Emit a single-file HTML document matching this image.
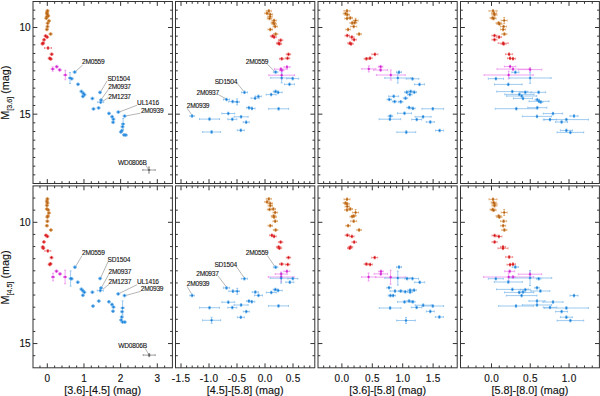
<!DOCTYPE html>
<html><head><meta charset="utf-8"><style>
html,body{margin:0;padding:0;background:#fff;width:600px;height:396px;overflow:hidden}
svg{display:block}
text{font-family:"Liberation Sans",sans-serif;fill:#111;stroke:#111;stroke-width:0.14}
.lb{stroke-width:0.1;letter-spacing:-0.22px}
.tl{letter-spacing:0.35px}
</style></head><body>
<svg width="600" height="396" viewBox="0 0 600 396">
<rect x="33" y="1.5" width="139.4" height="182" fill="none" stroke="#333333" stroke-width="1.0"/>
<path d="M39.97 183.5v-2.3M39.97 1.5v2.3M47.3 183.5v-4.4M47.3 1.5v4.4M54.63 183.5v-2.3M54.63 1.5v2.3M61.97 183.5v-2.3M61.97 1.5v2.3M69.3 183.5v-2.3M69.3 1.5v2.3M76.64 183.5v-2.3M76.64 1.5v2.3M83.97 183.5v-4.4M83.97 1.5v4.4M91.3 183.5v-2.3M91.3 1.5v2.3M98.64 183.5v-2.3M98.64 1.5v2.3M105.97 183.5v-2.3M105.97 1.5v2.3M113.31 183.5v-2.3M113.31 1.5v2.3M120.64 183.5v-4.4M120.64 1.5v4.4M127.97 183.5v-2.3M127.97 1.5v2.3M135.31 183.5v-2.3M135.31 1.5v2.3M142.64 183.5v-2.3M142.64 1.5v2.3M149.98 183.5v-2.3M149.98 1.5v2.3M157.31 183.5v-4.4M157.31 1.5v4.4M164.64 183.5v-2.3M164.64 1.5v2.3M33 10.17h2.3M172.4 10.17h-2.3M33 18.83h2.3M172.4 18.83h-2.3M33 27.5h4.4M172.4 27.5h-4.4M33 36.17h2.3M172.4 36.17h-2.3M33 44.83h2.3M172.4 44.83h-2.3M33 53.5h2.3M172.4 53.5h-2.3M33 62.17h2.3M172.4 62.17h-2.3M33 70.83h2.3M172.4 70.83h-2.3M33 79.5h2.3M172.4 79.5h-2.3M33 88.17h2.3M172.4 88.17h-2.3M33 96.83h2.3M172.4 96.83h-2.3M33 105.5h2.3M172.4 105.5h-2.3M33 114.16h4.4M172.4 114.16h-4.4M33 122.83h2.3M172.4 122.83h-2.3M33 131.5h2.3M172.4 131.5h-2.3M33 140.16h2.3M172.4 140.16h-2.3M33 148.83h2.3M172.4 148.83h-2.3M33 157.5h2.3M172.4 157.5h-2.3M33 166.16h2.3M172.4 166.16h-2.3M33 174.83h2.3M172.4 174.83h-2.3" stroke="#333333" stroke-width="1.0" fill="none"/>
<rect x="175.5" y="1.5" width="139.3" height="182" fill="none" stroke="#333333" stroke-width="1.0"/>
<path d="M181 183.5v-4.4M181 1.5v4.4M186.6 183.5v-2.3M186.6 1.5v2.3M192.2 183.5v-2.3M192.2 1.5v2.3M197.8 183.5v-2.3M197.8 1.5v2.3M203.4 183.5v-2.3M203.4 1.5v2.3M209 183.5v-4.4M209 1.5v4.4M214.6 183.5v-2.3M214.6 1.5v2.3M220.2 183.5v-2.3M220.2 1.5v2.3M225.8 183.5v-2.3M225.8 1.5v2.3M231.4 183.5v-2.3M231.4 1.5v2.3M237 183.5v-4.4M237 1.5v4.4M242.6 183.5v-2.3M242.6 1.5v2.3M248.2 183.5v-2.3M248.2 1.5v2.3M253.8 183.5v-2.3M253.8 1.5v2.3M259.4 183.5v-2.3M259.4 1.5v2.3M265 183.5v-4.4M265 1.5v4.4M270.6 183.5v-2.3M270.6 1.5v2.3M276.2 183.5v-2.3M276.2 1.5v2.3M281.8 183.5v-2.3M281.8 1.5v2.3M287.4 183.5v-2.3M287.4 1.5v2.3M293 183.5v-4.4M293 1.5v4.4M298.6 183.5v-2.3M298.6 1.5v2.3M304.2 183.5v-2.3M304.2 1.5v2.3M309.8 183.5v-2.3M309.8 1.5v2.3M175.5 10.17h2.3M314.8 10.17h-2.3M175.5 18.83h2.3M314.8 18.83h-2.3M175.5 27.5h4.4M314.8 27.5h-4.4M175.5 36.17h2.3M314.8 36.17h-2.3M175.5 44.83h2.3M314.8 44.83h-2.3M175.5 53.5h2.3M314.8 53.5h-2.3M175.5 62.17h2.3M314.8 62.17h-2.3M175.5 70.83h2.3M314.8 70.83h-2.3M175.5 79.5h2.3M314.8 79.5h-2.3M175.5 88.17h2.3M314.8 88.17h-2.3M175.5 96.83h2.3M314.8 96.83h-2.3M175.5 105.5h2.3M314.8 105.5h-2.3M175.5 114.16h4.4M314.8 114.16h-4.4M175.5 122.83h2.3M314.8 122.83h-2.3M175.5 131.5h2.3M314.8 131.5h-2.3M175.5 140.16h2.3M314.8 140.16h-2.3M175.5 148.83h2.3M314.8 148.83h-2.3M175.5 157.5h2.3M314.8 157.5h-2.3M175.5 166.16h2.3M314.8 166.16h-2.3M175.5 174.83h2.3M314.8 174.83h-2.3" stroke="#333333" stroke-width="1.0" fill="none"/>
<rect x="318" y="1.5" width="139.2" height="182" fill="none" stroke="#333333" stroke-width="1.0"/>
<path d="M323.66 183.5v-2.3M323.66 1.5v2.3M329.74 183.5v-2.3M329.74 1.5v2.3M335.82 183.5v-2.3M335.82 1.5v2.3M341.9 183.5v-4.4M341.9 1.5v4.4M347.98 183.5v-2.3M347.98 1.5v2.3M354.06 183.5v-2.3M354.06 1.5v2.3M360.14 183.5v-2.3M360.14 1.5v2.3M366.22 183.5v-2.3M366.22 1.5v2.3M372.3 183.5v-4.4M372.3 1.5v4.4M378.38 183.5v-2.3M378.38 1.5v2.3M384.46 183.5v-2.3M384.46 1.5v2.3M390.54 183.5v-2.3M390.54 1.5v2.3M396.62 183.5v-2.3M396.62 1.5v2.3M402.7 183.5v-4.4M402.7 1.5v4.4M408.78 183.5v-2.3M408.78 1.5v2.3M414.86 183.5v-2.3M414.86 1.5v2.3M420.94 183.5v-2.3M420.94 1.5v2.3M427.02 183.5v-2.3M427.02 1.5v2.3M433.1 183.5v-4.4M433.1 1.5v4.4M439.18 183.5v-2.3M439.18 1.5v2.3M445.26 183.5v-2.3M445.26 1.5v2.3M451.34 183.5v-2.3M451.34 1.5v2.3M318 10.17h2.3M457.2 10.17h-2.3M318 18.83h2.3M457.2 18.83h-2.3M318 27.5h4.4M457.2 27.5h-4.4M318 36.17h2.3M457.2 36.17h-2.3M318 44.83h2.3M457.2 44.83h-2.3M318 53.5h2.3M457.2 53.5h-2.3M318 62.17h2.3M457.2 62.17h-2.3M318 70.83h2.3M457.2 70.83h-2.3M318 79.5h2.3M457.2 79.5h-2.3M318 88.17h2.3M457.2 88.17h-2.3M318 96.83h2.3M457.2 96.83h-2.3M318 105.5h2.3M457.2 105.5h-2.3M318 114.16h4.4M457.2 114.16h-4.4M318 122.83h2.3M457.2 122.83h-2.3M318 131.5h2.3M457.2 131.5h-2.3M318 140.16h2.3M457.2 140.16h-2.3M318 148.83h2.3M457.2 148.83h-2.3M318 157.5h2.3M457.2 157.5h-2.3M318 166.16h2.3M457.2 166.16h-2.3M318 174.83h2.3M457.2 174.83h-2.3" stroke="#333333" stroke-width="1.0" fill="none"/>
<rect x="460.5" y="1.5" width="138.9" height="182" fill="none" stroke="#333333" stroke-width="1.0"/>
<path d="M468.25 183.5v-2.3M468.25 1.5v2.3M476 183.5v-2.3M476 1.5v2.3M483.75 183.5v-2.3M483.75 1.5v2.3M491.5 183.5v-4.4M491.5 1.5v4.4M499.25 183.5v-2.3M499.25 1.5v2.3M507 183.5v-2.3M507 1.5v2.3M514.75 183.5v-2.3M514.75 1.5v2.3M522.5 183.5v-2.3M522.5 1.5v2.3M530.25 183.5v-4.4M530.25 1.5v4.4M538 183.5v-2.3M538 1.5v2.3M545.75 183.5v-2.3M545.75 1.5v2.3M553.5 183.5v-2.3M553.5 1.5v2.3M561.25 183.5v-2.3M561.25 1.5v2.3M569 183.5v-4.4M569 1.5v4.4M576.75 183.5v-2.3M576.75 1.5v2.3M584.5 183.5v-2.3M584.5 1.5v2.3M592.25 183.5v-2.3M592.25 1.5v2.3M460.5 10.17h2.3M599.4 10.17h-2.3M460.5 18.83h2.3M599.4 18.83h-2.3M460.5 27.5h4.4M599.4 27.5h-4.4M460.5 36.17h2.3M599.4 36.17h-2.3M460.5 44.83h2.3M599.4 44.83h-2.3M460.5 53.5h2.3M599.4 53.5h-2.3M460.5 62.17h2.3M599.4 62.17h-2.3M460.5 70.83h2.3M599.4 70.83h-2.3M460.5 79.5h2.3M599.4 79.5h-2.3M460.5 88.17h2.3M599.4 88.17h-2.3M460.5 96.83h2.3M599.4 96.83h-2.3M460.5 105.5h2.3M599.4 105.5h-2.3M460.5 114.16h4.4M599.4 114.16h-4.4M460.5 122.83h2.3M599.4 122.83h-2.3M460.5 131.5h2.3M599.4 131.5h-2.3M460.5 140.16h2.3M599.4 140.16h-2.3M460.5 148.83h2.3M599.4 148.83h-2.3M460.5 157.5h2.3M599.4 157.5h-2.3M460.5 166.16h2.3M599.4 166.16h-2.3M460.5 174.83h2.3M599.4 174.83h-2.3" stroke="#333333" stroke-width="1.0" fill="none"/>
<rect x="33" y="185.9" width="139.4" height="181.9" fill="none" stroke="#333333" stroke-width="1.0"/>
<path d="M39.97 367.8v-2.3M39.97 185.9v2.3M47.3 367.8v-4.4M47.3 185.9v4.4M54.63 367.8v-2.3M54.63 185.9v2.3M61.97 367.8v-2.3M61.97 185.9v2.3M69.3 367.8v-2.3M69.3 185.9v2.3M76.64 367.8v-2.3M76.64 185.9v2.3M83.97 367.8v-4.4M83.97 185.9v4.4M91.3 367.8v-2.3M91.3 185.9v2.3M98.64 367.8v-2.3M98.64 185.9v2.3M105.97 367.8v-2.3M105.97 185.9v2.3M113.31 367.8v-2.3M113.31 185.9v2.3M120.64 367.8v-4.4M120.64 185.9v4.4M127.97 367.8v-2.3M127.97 185.9v2.3M135.31 367.8v-2.3M135.31 185.9v2.3M142.64 367.8v-2.3M142.64 185.9v2.3M149.98 367.8v-2.3M149.98 185.9v2.3M157.31 367.8v-4.4M157.31 185.9v4.4M164.64 367.8v-2.3M164.64 185.9v2.3M33 198.05h2.3M172.4 198.05h-2.3M33 210.17h2.3M172.4 210.17h-2.3M33 222.3h4.4M172.4 222.3h-4.4M33 234.43h2.3M172.4 234.43h-2.3M33 246.55h2.3M172.4 246.55h-2.3M33 258.68h2.3M172.4 258.68h-2.3M33 270.81h2.3M172.4 270.81h-2.3M33 282.93h2.3M172.4 282.93h-2.3M33 295.06h2.3M172.4 295.06h-2.3M33 307.19h2.3M172.4 307.19h-2.3M33 319.31h2.3M172.4 319.31h-2.3M33 331.44h2.3M172.4 331.44h-2.3M33 343.56h4.4M172.4 343.56h-4.4M33 355.69h2.3M172.4 355.69h-2.3" stroke="#333333" stroke-width="1.0" fill="none"/>
<rect x="175.5" y="185.9" width="139.3" height="181.9" fill="none" stroke="#333333" stroke-width="1.0"/>
<path d="M181 367.8v-4.4M181 185.9v4.4M186.6 367.8v-2.3M186.6 185.9v2.3M192.2 367.8v-2.3M192.2 185.9v2.3M197.8 367.8v-2.3M197.8 185.9v2.3M203.4 367.8v-2.3M203.4 185.9v2.3M209 367.8v-4.4M209 185.9v4.4M214.6 367.8v-2.3M214.6 185.9v2.3M220.2 367.8v-2.3M220.2 185.9v2.3M225.8 367.8v-2.3M225.8 185.9v2.3M231.4 367.8v-2.3M231.4 185.9v2.3M237 367.8v-4.4M237 185.9v4.4M242.6 367.8v-2.3M242.6 185.9v2.3M248.2 367.8v-2.3M248.2 185.9v2.3M253.8 367.8v-2.3M253.8 185.9v2.3M259.4 367.8v-2.3M259.4 185.9v2.3M265 367.8v-4.4M265 185.9v4.4M270.6 367.8v-2.3M270.6 185.9v2.3M276.2 367.8v-2.3M276.2 185.9v2.3M281.8 367.8v-2.3M281.8 185.9v2.3M287.4 367.8v-2.3M287.4 185.9v2.3M293 367.8v-4.4M293 185.9v4.4M298.6 367.8v-2.3M298.6 185.9v2.3M304.2 367.8v-2.3M304.2 185.9v2.3M309.8 367.8v-2.3M309.8 185.9v2.3M175.5 198.05h2.3M314.8 198.05h-2.3M175.5 210.17h2.3M314.8 210.17h-2.3M175.5 222.3h4.4M314.8 222.3h-4.4M175.5 234.43h2.3M314.8 234.43h-2.3M175.5 246.55h2.3M314.8 246.55h-2.3M175.5 258.68h2.3M314.8 258.68h-2.3M175.5 270.81h2.3M314.8 270.81h-2.3M175.5 282.93h2.3M314.8 282.93h-2.3M175.5 295.06h2.3M314.8 295.06h-2.3M175.5 307.19h2.3M314.8 307.19h-2.3M175.5 319.31h2.3M314.8 319.31h-2.3M175.5 331.44h2.3M314.8 331.44h-2.3M175.5 343.56h4.4M314.8 343.56h-4.4M175.5 355.69h2.3M314.8 355.69h-2.3" stroke="#333333" stroke-width="1.0" fill="none"/>
<rect x="318" y="185.9" width="139.2" height="181.9" fill="none" stroke="#333333" stroke-width="1.0"/>
<path d="M323.66 367.8v-2.3M323.66 185.9v2.3M329.74 367.8v-2.3M329.74 185.9v2.3M335.82 367.8v-2.3M335.82 185.9v2.3M341.9 367.8v-4.4M341.9 185.9v4.4M347.98 367.8v-2.3M347.98 185.9v2.3M354.06 367.8v-2.3M354.06 185.9v2.3M360.14 367.8v-2.3M360.14 185.9v2.3M366.22 367.8v-2.3M366.22 185.9v2.3M372.3 367.8v-4.4M372.3 185.9v4.4M378.38 367.8v-2.3M378.38 185.9v2.3M384.46 367.8v-2.3M384.46 185.9v2.3M390.54 367.8v-2.3M390.54 185.9v2.3M396.62 367.8v-2.3M396.62 185.9v2.3M402.7 367.8v-4.4M402.7 185.9v4.4M408.78 367.8v-2.3M408.78 185.9v2.3M414.86 367.8v-2.3M414.86 185.9v2.3M420.94 367.8v-2.3M420.94 185.9v2.3M427.02 367.8v-2.3M427.02 185.9v2.3M433.1 367.8v-4.4M433.1 185.9v4.4M439.18 367.8v-2.3M439.18 185.9v2.3M445.26 367.8v-2.3M445.26 185.9v2.3M451.34 367.8v-2.3M451.34 185.9v2.3M318 198.05h2.3M457.2 198.05h-2.3M318 210.17h2.3M457.2 210.17h-2.3M318 222.3h4.4M457.2 222.3h-4.4M318 234.43h2.3M457.2 234.43h-2.3M318 246.55h2.3M457.2 246.55h-2.3M318 258.68h2.3M457.2 258.68h-2.3M318 270.81h2.3M457.2 270.81h-2.3M318 282.93h2.3M457.2 282.93h-2.3M318 295.06h2.3M457.2 295.06h-2.3M318 307.19h2.3M457.2 307.19h-2.3M318 319.31h2.3M457.2 319.31h-2.3M318 331.44h2.3M457.2 331.44h-2.3M318 343.56h4.4M457.2 343.56h-4.4M318 355.69h2.3M457.2 355.69h-2.3" stroke="#333333" stroke-width="1.0" fill="none"/>
<rect x="460.5" y="185.9" width="138.9" height="181.9" fill="none" stroke="#333333" stroke-width="1.0"/>
<path d="M468.25 367.8v-2.3M468.25 185.9v2.3M476 367.8v-2.3M476 185.9v2.3M483.75 367.8v-2.3M483.75 185.9v2.3M491.5 367.8v-4.4M491.5 185.9v4.4M499.25 367.8v-2.3M499.25 185.9v2.3M507 367.8v-2.3M507 185.9v2.3M514.75 367.8v-2.3M514.75 185.9v2.3M522.5 367.8v-2.3M522.5 185.9v2.3M530.25 367.8v-4.4M530.25 185.9v4.4M538 367.8v-2.3M538 185.9v2.3M545.75 367.8v-2.3M545.75 185.9v2.3M553.5 367.8v-2.3M553.5 185.9v2.3M561.25 367.8v-2.3M561.25 185.9v2.3M569 367.8v-4.4M569 185.9v4.4M576.75 367.8v-2.3M576.75 185.9v2.3M584.5 367.8v-2.3M584.5 185.9v2.3M592.25 367.8v-2.3M592.25 185.9v2.3M460.5 198.05h2.3M599.4 198.05h-2.3M460.5 210.17h2.3M599.4 210.17h-2.3M460.5 222.3h4.4M599.4 222.3h-4.4M460.5 234.43h2.3M599.4 234.43h-2.3M460.5 246.55h2.3M599.4 246.55h-2.3M460.5 258.68h2.3M599.4 258.68h-2.3M460.5 270.81h2.3M599.4 270.81h-2.3M460.5 282.93h2.3M599.4 282.93h-2.3M460.5 295.06h2.3M599.4 295.06h-2.3M460.5 307.19h2.3M599.4 307.19h-2.3M460.5 319.31h2.3M599.4 319.31h-2.3M460.5 331.44h2.3M599.4 331.44h-2.3M460.5 343.56h4.4M599.4 343.56h-4.4M460.5 355.69h2.3M599.4 355.69h-2.3" stroke="#333333" stroke-width="1.0" fill="none"/>
<text x="30.6" y="31.1" text-anchor="end" font-size="10.0">10</text>
<text x="30.6" y="117.76" text-anchor="end" font-size="10.0">15</text>
<text x="30.6" y="225.9" text-anchor="end" font-size="10.0">10</text>
<text x="30.6" y="347.17" text-anchor="end" font-size="10.0">15</text>
<text class="tl" x="47.47" y="381.6" text-anchor="middle" font-size="10.0">0</text>
<text class="tl" x="84.14" y="381.6" text-anchor="middle" font-size="10.0">1</text>
<text class="tl" x="120.81" y="381.6" text-anchor="middle" font-size="10.0">2</text>
<text class="tl" x="157.48" y="381.6" text-anchor="middle" font-size="10.0">3</text>
<text x="102.7" y="393.6" text-anchor="middle" font-size="10.8">[3.6]-[4.5] (mag)</text>
<text class="tl" x="181.17" y="381.6" text-anchor="middle" font-size="10.0">-1.5</text>
<text class="tl" x="209.17" y="381.6" text-anchor="middle" font-size="10.0">-1.0</text>
<text class="tl" x="237.17" y="381.6" text-anchor="middle" font-size="10.0">-0.5</text>
<text class="tl" x="265.17" y="381.6" text-anchor="middle" font-size="10.0">0.0</text>
<text class="tl" x="293.17" y="381.6" text-anchor="middle" font-size="10.0">0.5</text>
<text x="245.15" y="393.6" text-anchor="middle" font-size="10.8">[4.5]-[5.8] (mag)</text>
<text class="tl" x="342.07" y="381.6" text-anchor="middle" font-size="10.0">0.0</text>
<text class="tl" x="372.47" y="381.6" text-anchor="middle" font-size="10.0">0.5</text>
<text class="tl" x="402.87" y="381.6" text-anchor="middle" font-size="10.0">1.0</text>
<text class="tl" x="433.27" y="381.6" text-anchor="middle" font-size="10.0">1.5</text>
<text x="387.6" y="393.6" text-anchor="middle" font-size="10.8">[3.6]-[5.8] (mag)</text>
<text class="tl" x="491.67" y="381.6" text-anchor="middle" font-size="10.0">0.0</text>
<text class="tl" x="530.42" y="381.6" text-anchor="middle" font-size="10.0">0.5</text>
<text class="tl" x="569.17" y="381.6" text-anchor="middle" font-size="10.0">1.0</text>
<text x="529.95" y="393.6" text-anchor="middle" font-size="10.8">[5.8]-[8.0] (mag)</text>
<text transform="translate(8.9 92.7) rotate(-90)" text-anchor="middle" font-size="10.8">M<tspan font-size="7.2" dy="2.7">[3.6]</tspan><tspan dy="-2.7"> (mag)</tspan></text>
<text transform="translate(8.9 277.45) rotate(-90)" text-anchor="middle" font-size="10.8">M<tspan font-size="7.2" dy="2.7">[4.5]</tspan><tspan dy="-2.7"> (mag)</tspan></text>
<line x1="75.3" y1="71.7" x2="82.7" y2="65" stroke="#777" stroke-width="0.55"/>
<text class="lb" x="82" y="63.8" font-size="6.6">2M0559</text>
<line x1="100.3" y1="92.3" x2="107.1" y2="80.9" stroke="#777" stroke-width="0.55"/>
<text class="lb" x="107.4" y="80.6" font-size="6.6">SD1504</text>
<line x1="101.8" y1="98.6" x2="108.6" y2="89.2" stroke="#777" stroke-width="0.55"/>
<text class="lb" x="108.3" y="89.4" font-size="6.6">2M0937</text>
<line x1="102.6" y1="101.4" x2="108.3" y2="97.6" stroke="#777" stroke-width="0.55"/>
<text class="lb" x="108.3" y="98.5" font-size="6.6">2M1237</text>
<line x1="118.5" y1="112.3" x2="137.1" y2="105.2" stroke="#777" stroke-width="0.55"/>
<text class="lb" x="137.1" y="105.2" font-size="6.6">UL1416</text>
<line x1="124.5" y1="116.2" x2="140.5" y2="113.2" stroke="#777" stroke-width="0.55"/>
<text class="lb" x="140.9" y="112.5" font-size="6.6">2M0939</text>
<line x1="145.8" y1="165.2" x2="148.5" y2="169.5" stroke="#777" stroke-width="0.55"/>
<text class="lb" x="118.1" y="165" font-size="6.6">WD0806B</text>
<line x1="75.3" y1="267" x2="82.1" y2="255.5" stroke="#777" stroke-width="0.55"/>
<text class="lb" x="82.1" y="255.3" font-size="6.6">2M0559</text>
<line x1="100.3" y1="278.6" x2="107.9" y2="262" stroke="#777" stroke-width="0.55"/>
<text class="lb" x="107.6" y="262" font-size="6.6">SD1504</text>
<line x1="101.8" y1="287" x2="109.1" y2="273.6" stroke="#777" stroke-width="0.55"/>
<text class="lb" x="108.6" y="273.5" font-size="6.6">2M0937</text>
<line x1="103" y1="289.2" x2="109.1" y2="284.2" stroke="#777" stroke-width="0.55"/>
<text class="lb" x="108.6" y="283.7" font-size="6.6">2M1237</text>
<line x1="118.5" y1="293.8" x2="137" y2="284.7" stroke="#777" stroke-width="0.55"/>
<text class="lb" x="137" y="284.1" font-size="6.6">UL1416</text>
<line x1="124.5" y1="295.8" x2="141.2" y2="291.2" stroke="#777" stroke-width="0.55"/>
<text class="lb" x="140.8" y="290.9" font-size="6.6">2M0939</text>
<line x1="145.2" y1="348.4" x2="148.6" y2="354.1" stroke="#777" stroke-width="0.55"/>
<text class="lb" x="118.3" y="347.9" font-size="6.6">WD0806B</text>
<line x1="267.3" y1="64.2" x2="274.8" y2="71.5" stroke="#777" stroke-width="0.55"/>
<text class="lb" x="245.8" y="64" font-size="6.6">2M0559</text>
<line x1="236.4" y1="82.4" x2="243.9" y2="91.5" stroke="#777" stroke-width="0.55"/>
<text class="lb" x="214.7" y="83.7" font-size="6.6">SD1504</text>
<line x1="218.2" y1="94.5" x2="226.5" y2="99.1" stroke="#777" stroke-width="0.55"/>
<text class="lb" x="196.5" y="94.6" font-size="6.6">2M0937</text>
<line x1="187.1" y1="108.2" x2="192.4" y2="115.8" stroke="#777" stroke-width="0.55"/>
<text class="lb" x="186.8" y="107.6" font-size="6.6">2M0939</text>
<line x1="267.3" y1="255.5" x2="274.8" y2="266.4" stroke="#777" stroke-width="0.55"/>
<text class="lb" x="245.8" y="255.2" font-size="6.6">2M0559</text>
<line x1="236.4" y1="266.7" x2="243.9" y2="277.3" stroke="#777" stroke-width="0.55"/>
<text class="lb" x="214.4" y="266.8" font-size="6.6">SD1504</text>
<line x1="218.2" y1="276.1" x2="226.5" y2="287.1" stroke="#777" stroke-width="0.55"/>
<text class="lb" x="196.2" y="275.9" font-size="6.6">2M0937</text>
<line x1="187.1" y1="286.4" x2="192" y2="294.7" stroke="#777" stroke-width="0.55"/>
<text class="lb" x="186.8" y="286.1" font-size="6.6">2M0939</text>
<path d="M46 10.7H49M46 9.7v2M49 9.7v2M47.5 9.4V12M46.5 9.4h2M46.5 12h2M45.6 12.2H48.6M45.6 11.2v2M48.6 11.2v2M47.1 10.9V13.5M46.1 10.9h2M46.1 13.5h2M45.4 13.5H48.4M45.4 12.5v2M48.4 12.5v2M46.9 12.2V14.8M45.9 12.2h2M45.9 14.8h2M46 14.8H49M46 13.8v2M49 13.8v2M47.5 13.5V16.1M46.5 13.5h2M46.5 16.1h2M46.7 16H49.7M46.7 15v2M49.7 15v2M48.2 14.7V17.3M47.2 14.7h2M47.2 17.3h2M45.4 16.7H48.4M45.4 15.7v2M48.4 15.7v2M46.9 15.4V18M45.9 15.4h2M45.9 18h2M44.8 18.3H47.8M44.8 17.3v2M47.8 17.3v2M46.3 17V19.6M45.3 17h2M45.3 19.6h2M47.5 20.9H50.5M47.5 19.9v2M50.5 19.9v2M49 19.6V22.2M48 19.6h2M48 22.2h2M46.2 23.2H49.2M46.2 22.2v2M49.2 22.2v2M47.7 21.9V24.5M46.7 21.9h2M46.7 24.5h2M46 26.6H49M46 25.6v2M49 25.6v2M47.5 25.3V27.9M46.5 25.3h2M46.5 27.9h2M45.4 29.4H48.4M45.4 28.4v2M48.4 28.4v2M46.9 28.1V30.7M45.9 28.1h2M45.9 30.7h2M49.1 34H52.1M49.1 33v2M52.1 33v2M50.6 32.7V35.3M49.6 32.7h2M49.6 35.3h2" stroke="#dca060" stroke-width="0.8" fill="none"/>
<path d="M44.1 35.9H47.1M44.1 34.9v2M47.1 34.9v2M45.6 34.6V37.2M44.6 34.6h2M44.6 37.2h2M45.6 37.1H48.6M45.6 36.1v2M48.6 36.1v2M47.1 35.8V38.4M46.1 35.8h2M46.1 38.4h2M42.6 39.8H45.6M42.6 38.8v2M45.6 38.8v2M44.1 38.5V41.1M43.1 38.5h2M43.1 41.1h2M41.6 43.1H44.6M41.6 42.1v2M44.6 42.1v2M43.1 41.8V44.4M42.1 41.8h2M42.1 44.4h2M41 43.8H44M41 42.8v2M44 42.8v2M42.5 42.5V45.1M41.5 42.5h2M41.5 45.1h2M50.2 54.2H53.2M50.2 53.2v2M53.2 53.2v2M51.7 52.9V55.5M50.7 52.9h2M50.7 55.5h2M48.2 58.3H51.2M48.2 57.3v2M51.2 57.3v2M49.7 57V59.6M48.7 57h2M48.7 59.6h2M49.2 59H52.2M49.2 58v2M52.2 58v2M50.7 57.7V60.3M49.7 57.7h2M49.7 60.3h2M44.5 48H51.5M44.5 47v2M51.5 47v2M48 46.7V49.3M47 46.7h2M47 49.3h2" stroke="#ec7c7c" stroke-width="0.8" fill="none"/>
<path d="M55.2 66.7H58.2M55.2 65.7v2M58.2 65.7v2M56.7 65.4V68M55.7 65.4h2M55.7 68h2M51.2 69H54.2M51.2 68v2M54.2 68v2M52.7 66.8V71.2M51.7 66.8h2M51.7 71.2h2M58.2 69.9H61.2M58.2 68.9v2M61.2 68.9v2M59.7 68.6V71.2M58.7 68.6h2M58.7 71.2h2M63.8 75H66.8M63.8 74v2M66.8 74v2M65.3 70.3V79.7M64.3 70.3h2M64.3 79.7h2" stroke="#ec8cec" stroke-width="0.8" fill="none"/>
<path d="M73.2 72.1H76.2M73.2 71.1v2M76.2 71.1v2M74.7 70.8V73.4M73.7 70.8h2M73.7 73.4h2M68.5 78H71.5M68.5 77v2M71.5 77v2M70 72.5V83.5M69 72.5h2M69 83.5h2M70.2 78.7H73.2M70.2 77.7v2M73.2 77.7v2M71.7 77.4V80M70.7 77.4h2M70.7 80h2M76.5 84.3H79.5M76.5 83.3v2M79.5 83.3v2M78 83V85.6M77 83h2M77 85.6h2M79.9 91.4H82.9M79.9 90.4v2M82.9 90.4v2M81.4 90.1V92.7M80.4 90.1h2M80.4 92.7h2M81.8 93.3H84.8M81.8 92.3v2M84.8 92.3v2M83.3 92V94.6M82.3 92h2M82.3 94.6h2M82.9 94.8H85.9M82.9 93.8v2M85.9 93.8v2M84.4 93.5V96.1M83.4 93.5h2M83.4 96.1h2M81.4 96.4H84.4M81.4 95.4v2M84.4 95.4v2M82.9 95.1V97.7M81.9 95.1h2M81.9 97.7h2M90.9 98.5H93.9M90.9 97.5v2M93.9 97.5v2M92.4 97.2V99.8M91.4 97.2h2M91.4 99.8h2M98.5 92.4H101.5M98.5 91.4v2M101.5 91.4v2M100 91.1V93.7M99 91.1h2M99 93.7h2M99.6 100H102.6M99.6 99v2M102.6 99v2M101.1 98.7V101.3M100.1 98.7h2M100.1 101.3h2M97.1 107.9H100.1M97.1 106.9v2M100.1 106.9v2M98.6 106.6V109.2M97.6 106.6h2M97.6 109.2h2M92 108.9H95M92 107.9v2M95 107.9v2M93.5 107.6V110.2M92.5 107.6h2M92.5 110.2h2M107.5 113.4H110.5M107.5 112.4v2M110.5 112.4v2M109 112.1V114.7M108 112.1h2M108 114.7h2M116.8 112.1H119.8M116.8 111.1v2M119.8 111.1v2M118.3 110.8V113.4M117.3 110.8h2M117.3 113.4h2M123.1 116.1H126.1M123.1 115.1v2M126.1 115.1v2M124.6 114.8V117.4M123.6 114.8h2M123.6 117.4h2M110.6 116.7H113.6M110.6 115.7v2M113.6 115.7v2M112.1 115.4V118M111.1 115.4h2M111.1 118h2M111.9 119.2H114.9M111.9 118.2v2M114.9 118.2v2M113.4 117.9V120.5M112.4 117.9h2M112.4 120.5h2M111.6 122.3H114.6M111.6 121.3v2M114.6 121.3v2M113.1 121V123.6M112.1 121h2M112.1 123.6h2M121 126.7H124M121 125.7v2M124 125.7v2M122.5 125.4V128M121.5 125.4h2M121.5 128h2M120.3 130.7H123.3M120.3 129.7v2M123.3 129.7v2M121.8 129.4V132M120.8 129.4h2M120.8 132h2M119.4 132H122.4M119.4 131v2M122.4 131v2M120.9 130.7V133.3M119.9 130.7h2M119.9 133.3h2M122.5 134.9H125.5M122.5 133.9v2M125.5 133.9v2M124 133.6V136.2M123 133.6h2M123 136.2h2M124.3 135.1H127.3M124.3 134.1v2M127.3 134.1v2M125.8 133.8V136.4M124.8 133.8h2M124.8 136.4h2M97.7 102.2H103.7M97.7 101.2v2M103.7 101.2v2M100.7 100.9V103.5M99.7 100.9h2M99.7 103.5h2M121.6 124H124.6M121.6 123v2M124.6 123v2M123.1 118.5V129.5M122.1 118.5h2M122.1 129.5h2" stroke="#84bcec" stroke-width="0.8" fill="none"/>
<path d="M142.8 170H155.2M142.8 169v2M155.2 169v2M149 167V173M148 167h2M148 173h2" stroke="#888888" stroke-width="0.8" fill="none"/>
<g fill="#a45814" stroke="#d07a26" stroke-width="0.55"><circle cx="47.5" cy="10.7" r="1.0"/><circle cx="47.1" cy="12.2" r="1.0"/><circle cx="46.9" cy="13.5" r="1.0"/><circle cx="47.5" cy="14.8" r="1.0"/><circle cx="48.2" cy="16" r="1.0"/><circle cx="46.9" cy="16.7" r="1.0"/><circle cx="46.3" cy="18.3" r="1.0"/><circle cx="49" cy="20.9" r="1.0"/><circle cx="47.7" cy="23.2" r="1.0"/><circle cx="47.5" cy="26.6" r="1.0"/><circle cx="46.9" cy="29.4" r="1.0"/><circle cx="50.6" cy="34" r="1.0"/></g>
<g fill="#c81018" stroke="#e83030" stroke-width="0.55"><circle cx="45.6" cy="35.9" r="1.0"/><circle cx="47.1" cy="37.1" r="1.0"/><circle cx="44.1" cy="39.8" r="1.0"/><circle cx="43.1" cy="43.1" r="1.0"/><circle cx="42.5" cy="43.8" r="1.0"/><circle cx="51.7" cy="54.2" r="1.0"/><circle cx="49.7" cy="58.3" r="1.0"/><circle cx="50.7" cy="59" r="1.0"/><circle cx="48" cy="48" r="1.0"/></g>
<g fill="#c01ac0" stroke="#e444e4" stroke-width="0.55"><circle cx="56.7" cy="66.7" r="1.0"/><circle cx="52.7" cy="69" r="1.0"/><circle cx="59.7" cy="69.9" r="1.0"/><circle cx="65.3" cy="75" r="1.0"/></g>
<g fill="#1c74c8" stroke="#38a0ee" stroke-width="0.55"><circle cx="74.7" cy="72.1" r="1.0"/><circle cx="70" cy="78" r="1.0"/><circle cx="71.7" cy="78.7" r="1.0"/><circle cx="78" cy="84.3" r="1.0"/><circle cx="81.4" cy="91.4" r="1.0"/><circle cx="83.3" cy="93.3" r="1.0"/><circle cx="84.4" cy="94.8" r="1.0"/><circle cx="82.9" cy="96.4" r="1.0"/><circle cx="92.4" cy="98.5" r="1.0"/><circle cx="100" cy="92.4" r="1.0"/><circle cx="101.1" cy="100" r="1.0"/><circle cx="98.6" cy="107.9" r="1.0"/><circle cx="93.5" cy="108.9" r="1.0"/><circle cx="109" cy="113.4" r="1.0"/><circle cx="118.3" cy="112.1" r="1.0"/><circle cx="124.6" cy="116.1" r="1.0"/><circle cx="112.1" cy="116.7" r="1.0"/><circle cx="113.4" cy="119.2" r="1.0"/><circle cx="113.1" cy="122.3" r="1.0"/><circle cx="122.5" cy="126.7" r="1.0"/><circle cx="121.8" cy="130.7" r="1.0"/><circle cx="120.9" cy="132" r="1.0"/><circle cx="124" cy="134.9" r="1.0"/><circle cx="125.8" cy="135.1" r="1.0"/><circle cx="100.7" cy="102.2" r="1.0"/><circle cx="123.1" cy="124" r="1.0"/></g>
<g fill="#505050" stroke="#707070" stroke-width="0.55"><circle cx="149" cy="170" r="1.0"/></g>
<path d="M266.3 10.9H271.3M266.3 9.9v2M271.3 9.9v2M268.8 9.6V12.2M267.8 9.6h2M267.8 12.2h2M264.8 13.3H269.2M264.8 12.3v2M269.2 12.3v2M267 12V14.6M266 12h2M266 14.6h2M268.1 14.4H272.5M268.1 13.4v2M272.5 13.4v2M270.3 13.1V15.7M269.3 13.1h2M269.3 15.7h2M267.8 16.7H272.2M267.8 15.7v2M272.2 15.7v2M270 15.4V18M269 15.4h2M269 18h2M267.3 18.5H271.7M267.3 17.5v2M271.7 17.5v2M269.5 17.2V19.8M268.5 17.2h2M268.5 19.8h2M271.9 20.5H276.3M271.9 19.5v2M276.3 19.5v2M274.1 19.2V21.8M273.1 19.2h2M273.1 21.8h2M271.1 22.7H275.5M271.1 21.7v2M275.5 21.7v2M273.3 21.4V24M272.3 21.4h2M272.3 24h2M271.9 23.9H276.3M271.9 22.9v2M276.3 22.9v2M274.1 22.6V25.2M273.1 22.6h2M273.1 25.2h2M273 26.5H277.4M273 25.5v2M277.4 25.5v2M275.2 25.2V27.8M274.2 25.2h2M274.2 27.8h2M268.1 29.5H272.5M268.1 28.5v2M272.5 28.5v2M270.3 28.2V30.8M269.3 28.2h2M269.3 30.8h2M273.4 34.1H277.8M273.4 33.1v2M277.8 33.1v2M275.6 32.8V35.4M274.6 32.8h2M274.6 35.4h2" stroke="#dca060" stroke-width="0.8" fill="none"/>
<path d="M270.4 36.1H274.8M270.4 35.1v2M274.8 35.1v2M272.6 34.8V37.4M271.6 34.8h2M271.6 37.4h2M271.9 37.1H276.3M271.9 36.1v2M276.3 36.1v2M274.1 35.8V38.4M273.1 35.8h2M273.1 38.4h2M278.4 40.2H282.8M278.4 39.2v2M282.8 39.2v2M280.6 38.9V41.5M279.6 38.9h2M279.6 41.5h2M276.4 43.2H280.8M276.4 42.2v2M280.8 42.2v2M278.6 41.9V44.5M277.6 41.9h2M277.6 44.5h2M277.2 43.9H281.6M277.2 42.9v2M281.6 42.9v2M279.4 42.6V45.2M278.4 42.6h2M278.4 45.2h2M286.3 54.3H290.7M286.3 53.3v2M290.7 53.3v2M288.5 53V55.6M287.5 53h2M287.5 55.6h2M285.3 58.3H289.7M285.3 57.3v2M289.7 57.3v2M287.5 57V59.6M286.5 57h2M286.5 59.6h2M279.5 58.8H283.9M279.5 57.8v2M283.9 57.8v2M281.7 57.5V60.1M280.7 57.5h2M280.7 60.1h2" stroke="#ec7c7c" stroke-width="0.8" fill="none"/>
<path d="M284 67H290M284 66v2M290 66v2M287 65.7V68.3M286 65.7h2M286 68.3h2M274.5 69.1H287.3M274.5 68.1v2M287.3 68.1v2M280.9 67.8V70.4M279.9 67.8h2M279.9 70.4h2M279.5 70.3H283.9M279.5 69.3v2M283.9 69.3v2M281.7 69V71.6M280.7 69h2M280.7 71.6h2M268.8 75.2H294.6M268.8 74.2v2M294.6 74.2v2M281.7 71.2V79.2M280.7 71.2h2M280.7 79.2h2" stroke="#ec8cec" stroke-width="0.8" fill="none"/>
<path d="M273.4 72.1H277.8M273.4 71.1v2M277.8 71.1v2M275.6 70.8V73.4M274.6 70.8h2M274.6 73.4h2M270.7 77.9H292.7M270.7 76.9v2M292.7 76.9v2M281.7 72.9V82.9M280.7 72.9h2M280.7 82.9h2M286.7 78.6H298.7M286.7 77.6v2M298.7 77.6v2M292.7 77.3V79.9M291.7 77.3h2M291.7 79.9h2M284.5 84.3H294.5M284.5 83.3v2M294.5 83.3v2M289.5 83V85.6M288.5 83h2M288.5 85.6h2M241.5 92.4H247.5M241.5 91.4v2M247.5 91.4v2M244.5 91.1V93.7M243.5 91.1h2M243.5 93.7h2M273.4 91.4H277.8M273.4 90.4v2M277.8 90.4v2M275.6 90.1V92.7M274.6 90.1h2M274.6 92.7h2M274.2 92.4H282.2M274.2 91.4v2M282.2 91.4v2M278.2 91.1V93.7M277.2 91.1h2M277.2 93.7h2M266.2 94.6H276.2M266.2 93.6v2M276.2 93.6v2M271.2 93.3V95.9M270.2 93.3h2M270.2 95.9h2M255.4 96.4H261.4M255.4 95.4v2M261.4 95.4v2M258.4 95.1V97.7M257.4 95.1h2M257.4 97.7h2M251.1 98.2H259.1M251.1 97.2v2M259.1 97.2v2M255.1 96.9V99.5M254.1 96.9h2M254.1 99.5h2M223.5 99.5H229.5M223.5 98.5v2M229.5 98.5v2M226.5 98.2V100.8M225.5 98.2h2M225.5 100.8h2M228.6 101.6H236.6M228.6 100.6v2M236.6 100.6v2M232.6 100.3V102.9M231.6 100.3h2M231.6 102.9h2M234.9 101.9H239.3M234.9 100.9v2M239.3 100.9v2M237.1 98.9V104.9M236.1 98.9h2M236.1 104.9h2M246.7 107.7H251.1M246.7 106.7v2M251.1 106.7v2M248.9 106.4V109M247.9 106.4h2M247.9 109h2M249 108.5H255M249 107.5v2M255 107.5v2M252 107.2V109.8M251 107.2h2M251 109.8h2M268.6 108.8H288.6M268.6 107.8v2M288.6 107.8v2M278.6 107.5V110.1M277.6 107.5h2M277.6 110.1h2M221.9 113.5H234.7M221.9 112.5v2M234.7 112.5v2M228.3 112.2V114.8M227.3 112.2h2M227.3 114.8h2M227.8 119.3H236.8M227.8 118.3v2M236.8 118.3v2M232.3 118V120.6M231.3 118h2M231.3 120.6h2M234.1 116.8H248.1M234.1 115.8v2M248.1 115.8v2M241.1 115.5V118.1M240.1 115.5h2M240.1 118.1h2M243.2 122.2H249.2M243.2 121.2v2M249.2 121.2v2M246.2 120.9V123.5M245.2 120.9h2M245.2 123.5h2M237.3 130.3H244.3M237.3 129.3v2M244.3 129.3v2M240.8 129V131.6M239.8 129h2M239.8 131.6h2M189.9 116H194.3M189.9 115v2M194.3 115v2M192.1 114.7V117.3M191.1 114.7h2M191.1 117.3h2M199.5 119.1H219.5M199.5 118.1v2M219.5 118.1v2M209.5 117.8V120.4M208.5 117.8h2M208.5 120.4h2M202.6 132H220.6M202.6 131v2M220.6 131v2M211.6 130.5V133.5M210.6 130.5h2M210.6 133.5h2" stroke="#84bcec" stroke-width="0.8" fill="none"/>
<g fill="#a45814" stroke="#d07a26" stroke-width="0.55"><circle cx="268.8" cy="10.9" r="1.0"/><circle cx="267" cy="13.3" r="1.0"/><circle cx="270.3" cy="14.4" r="1.0"/><circle cx="270" cy="16.7" r="1.0"/><circle cx="269.5" cy="18.5" r="1.0"/><circle cx="274.1" cy="20.5" r="1.0"/><circle cx="273.3" cy="22.7" r="1.0"/><circle cx="274.1" cy="23.9" r="1.0"/><circle cx="275.2" cy="26.5" r="1.0"/><circle cx="270.3" cy="29.5" r="1.0"/><circle cx="275.6" cy="34.1" r="1.0"/></g>
<g fill="#c81018" stroke="#e83030" stroke-width="0.55"><circle cx="272.6" cy="36.1" r="1.0"/><circle cx="274.1" cy="37.1" r="1.0"/><circle cx="280.6" cy="40.2" r="1.0"/><circle cx="278.6" cy="43.2" r="1.0"/><circle cx="279.4" cy="43.9" r="1.0"/><circle cx="288.5" cy="54.3" r="1.0"/><circle cx="287.5" cy="58.3" r="1.0"/><circle cx="281.7" cy="58.8" r="1.0"/></g>
<g fill="#c01ac0" stroke="#e444e4" stroke-width="0.55"><circle cx="287" cy="67" r="1.0"/><circle cx="280.9" cy="69.1" r="1.0"/><circle cx="281.7" cy="70.3" r="1.0"/><circle cx="281.7" cy="75.2" r="1.0"/></g>
<g fill="#1c74c8" stroke="#38a0ee" stroke-width="0.55"><circle cx="275.6" cy="72.1" r="1.0"/><circle cx="281.7" cy="77.9" r="1.0"/><circle cx="292.7" cy="78.6" r="1.0"/><circle cx="289.5" cy="84.3" r="1.0"/><circle cx="244.5" cy="92.4" r="1.0"/><circle cx="275.6" cy="91.4" r="1.0"/><circle cx="278.2" cy="92.4" r="1.0"/><circle cx="271.2" cy="94.6" r="1.0"/><circle cx="258.4" cy="96.4" r="1.0"/><circle cx="255.1" cy="98.2" r="1.0"/><circle cx="226.5" cy="99.5" r="1.0"/><circle cx="232.6" cy="101.6" r="1.0"/><circle cx="237.1" cy="101.9" r="1.0"/><circle cx="248.9" cy="107.7" r="1.0"/><circle cx="252" cy="108.5" r="1.0"/><circle cx="278.6" cy="108.8" r="1.0"/><circle cx="228.3" cy="113.5" r="1.0"/><circle cx="232.3" cy="119.3" r="1.0"/><circle cx="241.1" cy="116.8" r="1.0"/><circle cx="246.2" cy="122.2" r="1.0"/><circle cx="240.8" cy="130.3" r="1.0"/><circle cx="192.1" cy="116" r="1.0"/><circle cx="209.5" cy="119.1" r="1.0"/><circle cx="211.6" cy="132" r="1.0"/></g>
<path d="M344 10.9H350M344 9.9v2M350 9.9v2M347 9.6V12.2M346 9.6h2M346 12.2h2M343.3 13.6H347.7M343.3 12.6v2M347.7 12.6v2M345.5 12.3V14.9M344.5 12.3h2M344.5 14.9h2M345.1 14.8H349.5M345.1 13.8v2M349.5 13.8v2M347.3 13.5V16.1M346.3 13.5h2M346.3 16.1h2M344.8 18.5H349.2M344.8 17.5v2M349.2 17.5v2M347 17.2V19.8M346 17.2h2M346 19.8h2M348.1 17.9H352.5M348.1 16.9v2M352.5 16.9v2M350.3 16.6V19.2M349.3 16.6h2M349.3 19.2h2M350 23H354.4M350 22v2M354.4 22v2M352.2 21.7V24.3M351.2 21.7h2M351.2 24.3h2M352.4 22.7H356.8M352.4 21.7v2M356.8 21.7v2M354.6 21.4V24M353.6 21.4h2M353.6 24h2M345.9 29.5H350.3M345.9 28.5v2M350.3 28.5v2M348.1 28.2V30.8M347.1 28.2h2M347.1 30.8h2M356.9 34.1H361.3M356.9 33.1v2M361.3 33.1v2M359.1 32.8V35.4M358.1 32.8h2M358.1 35.4h2M353.1 20.5H358.1M353.1 19.5v2M358.1 19.5v2M355.6 18.3V22.7M354.6 18.3h2M354.6 22.7h2M350.7 26.5H356.7M350.7 25.5v2M356.7 25.5v2M353.7 25.2V27.8M352.7 25.2h2M352.7 27.8h2" stroke="#dca060" stroke-width="0.8" fill="none"/>
<path d="M345.1 35.6H349.5M345.1 34.6v2M349.5 34.6v2M347.3 34.3V36.9M346.3 34.3h2M346.3 36.9h2M349.6 37.1H354M349.6 36.1v2M354 36.1v2M351.8 35.8V38.4M350.8 35.8h2M350.8 38.4h2M351.9 39.7H356.3M351.9 38.7v2M356.3 38.7v2M354.1 38.4V41M353.1 38.4h2M353.1 41h2M347.8 43.2H352.2M347.8 42.2v2M352.2 42.2v2M350 41.9V44.5M349 41.9h2M349 44.5h2M348.8 43.9H353.2M348.8 42.9v2M353.2 42.9v2M351 42.6V45.2M350 42.6h2M350 45.2h2M367.8 58.2H372.2M367.8 57.2v2M372.2 57.2v2M370 56.9V59.5M369 56.9h2M369 59.5h2M364.2 58.8H368.6M364.2 57.8v2M368.6 57.8v2M366.4 57.5V60.1M365.4 57.5h2M365.4 60.1h2M371.9 54.3H377.9M371.9 53.3v2M377.9 53.3v2M374.9 53V55.6M373.9 53h2M373.9 55.6h2" stroke="#ec7c7c" stroke-width="0.8" fill="none"/>
<path d="M378.4 66.7H382.8M378.4 65.7v2M382.8 65.7v2M380.6 65.4V68M379.6 65.4h2M379.6 68h2M361.8 68.9H375.8M361.8 67.9v2M375.8 67.9v2M368.8 65.9V71.9M367.8 65.9h2M367.8 71.9h2M373.6 70H387.6M373.6 69v2M387.6 69v2M380.6 68.7V71.3M379.6 68.7h2M379.6 71.3h2M376.4 75H405.2M376.4 74v2M405.2 74v2M390.8 70V80M389.8 70h2M389.8 80h2" stroke="#ec8cec" stroke-width="0.8" fill="none"/>
<path d="M396.5 72.2H401.5M396.5 71.2v2M401.5 71.2v2M399 70.9V73.5M398 70.9h2M398 73.5h2M384.8 78H410.8M384.8 77v2M410.8 77v2M397.8 73V83M396.8 73h2M396.8 83h2M406.2 78.8H418.8M406.2 77.8v2M418.8 77.8v2M412.5 77.5V80.1M411.5 77.5h2M411.5 80.1h2M414.5 84.4H424.5M414.5 83.4v2M424.5 83.4v2M419.5 83.1V85.7M418.5 83.1h2M418.5 85.7h2M404.6 92.2H409M404.6 91.2v2M409 91.2v2M406.8 90.9V93.5M405.8 90.9h2M405.8 93.5h2M408.4 91.4H412.8M408.4 90.4v2M412.8 90.4v2M410.6 90.1V92.7M409.6 90.1h2M409.6 92.7h2M412.1 92.2H416.5M412.1 91.2v2M416.5 91.2v2M414.3 90.9V93.5M413.3 90.9h2M413.3 93.5h2M407.6 94.6H412M407.6 93.6v2M412 93.6v2M409.8 93.3V95.9M408.8 93.3h2M408.8 95.9h2M387.1 99.5H391.5M387.1 98.5v2M391.5 98.5v2M389.3 98.2V100.8M388.3 98.2h2M388.3 100.8h2M392.4 101.6H396.8M392.4 100.6v2M396.8 100.6v2M394.6 100.3V102.9M393.6 100.3h2M393.6 102.9h2M398.5 101.8H402.9M398.5 100.8v2M402.9 100.8v2M400.7 100.5V103.1M399.7 100.5h2M399.7 103.1h2M403.3 98.2H407.7M403.3 97.2v2M407.7 97.2v2M405.5 96.9V99.5M404.5 96.9h2M404.5 99.5h2M406.9 107.6H411.3M406.9 106.6v2M411.3 106.6v2M409.1 106.3V108.9M408.1 106.3h2M408.1 108.9h2M410.7 108.4H415.1M410.7 107.4v2M415.1 107.4v2M412.9 107.1V109.7M411.9 107.1h2M411.9 109.7h2M388.2 116.1H392.6M388.2 115.1v2M392.6 115.1v2M390.4 114.8V117.4M389.4 114.8h2M389.4 117.4h2M388.7 96.3H398.7M388.7 95.3v2M398.7 95.3v2M393.7 95V97.6M392.7 95h2M392.7 97.6h2M422 108.8H443.6M422 107.8v2M443.6 107.8v2M432.8 107.5V110.1M431.8 107.5h2M431.8 110.1h2M397.5 113.3H411.5M397.5 112.3v2M411.5 112.3v2M404.5 112V114.6M403.5 112h2M403.5 114.6h2M415.1 116.8H431.1M415.1 115.8v2M431.1 115.8v2M423.1 115.5V118.1M422.1 115.5h2M422.1 118.1h2M379.1 119.2H400.7M379.1 118.2v2M400.7 118.2v2M389.9 117.9V120.5M388.9 117.9h2M388.9 120.5h2M411.7 119.5H421.7M411.7 118.5v2M421.7 118.5v2M416.7 118.2V120.8M415.7 118.2h2M415.7 120.8h2M426.3 122H434.3M426.3 121v2M434.3 121v2M430.3 120.7V123.3M429.3 120.7h2M429.3 123.3h2M435.6 130.5H443.6M435.6 129.5v2M443.6 129.5v2M439.6 129.2V131.8M438.6 129.2h2M438.6 131.8h2M396.9 132.2H415.7M396.9 131.2v2M415.7 131.2v2M406.3 130.7V133.7M405.3 130.7h2M405.3 133.7h2" stroke="#84bcec" stroke-width="0.8" fill="none"/>
<g fill="#a45814" stroke="#d07a26" stroke-width="0.55"><circle cx="347" cy="10.9" r="1.0"/><circle cx="345.5" cy="13.6" r="1.0"/><circle cx="347.3" cy="14.8" r="1.0"/><circle cx="347" cy="18.5" r="1.0"/><circle cx="350.3" cy="17.9" r="1.0"/><circle cx="352.2" cy="23" r="1.0"/><circle cx="354.6" cy="22.7" r="1.0"/><circle cx="348.1" cy="29.5" r="1.0"/><circle cx="359.1" cy="34.1" r="1.0"/><circle cx="355.6" cy="20.5" r="1.0"/><circle cx="353.7" cy="26.5" r="1.0"/></g>
<g fill="#c81018" stroke="#e83030" stroke-width="0.55"><circle cx="347.3" cy="35.6" r="1.0"/><circle cx="351.8" cy="37.1" r="1.0"/><circle cx="354.1" cy="39.7" r="1.0"/><circle cx="350" cy="43.2" r="1.0"/><circle cx="351" cy="43.9" r="1.0"/><circle cx="370" cy="58.2" r="1.0"/><circle cx="366.4" cy="58.8" r="1.0"/><circle cx="374.9" cy="54.3" r="1.0"/></g>
<g fill="#c01ac0" stroke="#e444e4" stroke-width="0.55"><circle cx="380.6" cy="66.7" r="1.0"/><circle cx="368.8" cy="68.9" r="1.0"/><circle cx="380.6" cy="70" r="1.0"/><circle cx="390.8" cy="75" r="1.0"/></g>
<g fill="#1c74c8" stroke="#38a0ee" stroke-width="0.55"><circle cx="399" cy="72.2" r="1.0"/><circle cx="397.8" cy="78" r="1.0"/><circle cx="412.5" cy="78.8" r="1.0"/><circle cx="419.5" cy="84.4" r="1.0"/><circle cx="406.8" cy="92.2" r="1.0"/><circle cx="410.6" cy="91.4" r="1.0"/><circle cx="414.3" cy="92.2" r="1.0"/><circle cx="409.8" cy="94.6" r="1.0"/><circle cx="389.3" cy="99.5" r="1.0"/><circle cx="394.6" cy="101.6" r="1.0"/><circle cx="400.7" cy="101.8" r="1.0"/><circle cx="405.5" cy="98.2" r="1.0"/><circle cx="409.1" cy="107.6" r="1.0"/><circle cx="412.9" cy="108.4" r="1.0"/><circle cx="390.4" cy="116.1" r="1.0"/><circle cx="393.7" cy="96.3" r="1.0"/><circle cx="432.8" cy="108.8" r="1.0"/><circle cx="404.5" cy="113.3" r="1.0"/><circle cx="423.1" cy="116.8" r="1.0"/><circle cx="389.9" cy="119.2" r="1.0"/><circle cx="416.7" cy="119.5" r="1.0"/><circle cx="430.3" cy="122" r="1.0"/><circle cx="439.6" cy="130.5" r="1.0"/><circle cx="406.3" cy="132.2" r="1.0"/></g>
<path d="M489 10.9H497M489 9.9v2M497 9.9v2M493 9.6V12.2M492 9.6h2M492 12.2h2M491.6 13.3H496.6M491.6 12.3v2M496.6 12.3v2M494.1 12V14.6M493.1 12h2M493.1 14.6h2M492 14.8H497M492 13.8v2M497 13.8v2M494.5 13.5V16.1M493.5 13.5h2M493.5 16.1h2M490.1 17.9H495.1M490.1 16.9v2M495.1 16.9v2M492.6 16.6V19.2M491.6 16.6h2M491.6 19.2h2M491.1 18.5H496.1M491.1 17.5v2M496.1 17.5v2M493.6 17.2V19.8M492.6 17.2h2M492.6 19.8h2M496.1 23H501.1M496.1 22v2M501.1 22v2M498.6 21.7V24.3M497.6 21.7h2M497.6 24.3h2M496.9 23.9H501.9M496.9 22.9v2M501.9 22.9v2M499.4 22.6V25.2M498.4 22.6h2M498.4 25.2h2M500.7 29.5H505.7M500.7 28.5v2M505.7 28.5v2M503.2 28.2V30.8M502.2 28.2h2M502.2 30.8h2M501.9 34.1H506.9M501.9 33.1v2M506.9 33.1v2M504.4 32.8V35.4M503.4 32.8h2M503.4 35.4h2M501.2 20.5H507.2M501.2 19.5v2M507.2 19.5v2M504.2 17.5V23.5M503.2 17.5h2M503.2 23.5h2M500.6 26.5H506.6M500.6 25.5v2M506.6 25.5v2M503.6 25.2V27.8M502.6 25.2h2M502.6 27.8h2" stroke="#dca060" stroke-width="0.8" fill="none"/>
<path d="M492 35.6H497M492 34.6v2M497 34.6v2M494.5 34.3V36.9M493.5 34.3h2M493.5 36.9h2M496.6 37.1H501.6M496.6 36.1v2M501.6 36.1v2M499.1 35.8V38.4M498.1 35.8h2M498.1 38.4h2M492 39.7H497M492 38.7v2M497 38.7v2M494.5 38.4V41M493.5 38.4h2M493.5 41h2M501.1 43.9H506.1M501.1 42.9v2M506.1 42.9v2M503.6 42.6V45.2M502.6 42.6h2M502.6 45.2h2M507.5 58.3H512.5M507.5 57.3v2M512.5 57.3v2M510 57V59.6M509 57h2M509 59.6h2M498.2 43.2H508.2M498.2 42.2v2M508.2 42.2v2M503.2 41.9V44.5M502.2 41.9h2M502.2 44.5h2M505.6 54.2H512.6M505.6 53.2v2M512.6 53.2v2M509.1 52.9V55.5M508.1 52.9h2M508.1 55.5h2M510.5 58.7H515.5M510.5 57.7v2M515.5 57.7v2M513 57.4V60M512 57.4h2M512 60h2" stroke="#ec7c7c" stroke-width="0.8" fill="none"/>
<path d="M504.4 66.5H515.8M504.4 65.5v2M515.8 65.5v2M510.1 65.2V67.8M509.1 65.2h2M509.1 67.8h2M518.4 69.6H541.8M518.4 68.6v2M541.8 68.6v2M530.1 67.6V71.6M529.1 67.6h2M529.1 71.6h2M497 69.1H529M497 68.1v2M529 68.1v2M513 67.8V70.4M512 67.8h2M512 70.4h2M484.2 75H533.2M484.2 74v2M533.2 74v2M508.7 71.2V78.8M507.7 71.2h2M507.7 78.8h2" stroke="#ec8cec" stroke-width="0.8" fill="none"/>
<path d="M511.9 72.3H518.9M511.9 71.3v2M518.9 71.3v2M515.4 71V73.6M514.4 71h2M514.4 73.6h2M509.1 78H551.1M509.1 77v2M551.1 77v2M530.1 72.7V83.3M529.1 72.7h2M529.1 83.3h2M488.3 78.7H503.5M488.3 77.7v2M503.5 77.7v2M495.9 77.4V80M494.9 77.4h2M494.9 80h2M494.5 84.4H522.1M494.5 83.4v2M522.1 83.4v2M508.3 83.1V85.7M507.3 83.1h2M507.3 85.7h2M496.7 91.6H527.9M496.7 90.6v2M527.9 90.6v2M512.3 90.3V92.9M511.3 90.3h2M511.3 92.9h2M519.8 92.3H530.8M519.8 91.3v2M530.8 91.3v2M525.3 91V93.6M524.3 91h2M524.3 93.6h2M531.6 92.3H545.6M531.6 91.3v2M545.6 91.3v2M538.6 91V93.6M537.6 91h2M537.6 93.6h2M504.8 94.4H534M504.8 93.4v2M534 93.4v2M519.4 93.1V95.7M518.4 93.1h2M518.4 95.7h2M506.7 96H536.7M506.7 95v2M536.7 95v2M521.7 94.7V97.3M520.7 94.7h2M520.7 97.3h2M513.5 98.4H532.5M513.5 97.4v2M532.5 97.4v2M523 97.1V99.7M522 97.1h2M522 99.7h2M535.1 99.7H539.5M535.1 98.7v2M539.5 98.7v2M537.3 98.4V101M536.3 98.4h2M536.3 101h2M529 101.3H549M529 100.3v2M549 100.3v2M539 100V102.6M538 100h2M538 102.6h2M538.5 102H542.9M538.5 101v2M542.9 101v2M540.7 100.7V103.3M539.7 100.7h2M539.7 103.3h2M495.3 108.7H537.3M495.3 107.7v2M537.3 107.7v2M516.3 107.4V110M515.3 107.4h2M515.3 110h2M527.8 107.7H546.8M527.8 106.7v2M546.8 106.7v2M537.3 106.4V109M536.3 106.4h2M536.3 109h2M543.3 113.6H562.7M543.3 112.6v2M562.7 112.6v2M553 112.3V114.9M552 112.3h2M552 114.9h2M570 116H578M570 115v2M578 115v2M574 114.7V117.3M573 114.7h2M573 117.3h2M522.4 116.4H551.6M522.4 115.4v2M551.6 115.4v2M537 115.1V117.7M536 115.1h2M536 117.7h2M543.3 119.6H556.7M543.3 118.6v2M556.7 118.6v2M550 118.3V120.9M549 118.3h2M549 120.9h2M544.4 119.6H588.4M544.4 118.6v2M588.4 118.6v2M566.4 118.3V120.9M565.4 118.3h2M565.4 120.9h2M555.6 122H567.6M555.6 121v2M567.6 121v2M561.6 120.7V123.3M560.6 120.7h2M560.6 123.3h2M560.4 130.4H572.4M560.4 129.4v2M572.4 129.4v2M566.4 129.1V131.7M565.4 129.1h2M565.4 131.7h2M557.1 132.4H583.7M557.1 131.4v2M583.7 131.4v2M570.4 131.1V133.7M569.4 131.1h2M569.4 133.7h2" stroke="#84bcec" stroke-width="0.8" fill="none"/>
<g fill="#a45814" stroke="#d07a26" stroke-width="0.55"><circle cx="493" cy="10.9" r="1.0"/><circle cx="494.1" cy="13.3" r="1.0"/><circle cx="494.5" cy="14.8" r="1.0"/><circle cx="492.6" cy="17.9" r="1.0"/><circle cx="493.6" cy="18.5" r="1.0"/><circle cx="498.6" cy="23" r="1.0"/><circle cx="499.4" cy="23.9" r="1.0"/><circle cx="503.2" cy="29.5" r="1.0"/><circle cx="504.4" cy="34.1" r="1.0"/><circle cx="504.2" cy="20.5" r="1.0"/><circle cx="503.6" cy="26.5" r="1.0"/></g>
<g fill="#c81018" stroke="#e83030" stroke-width="0.55"><circle cx="494.5" cy="35.6" r="1.0"/><circle cx="499.1" cy="37.1" r="1.0"/><circle cx="494.5" cy="39.7" r="1.0"/><circle cx="503.6" cy="43.9" r="1.0"/><circle cx="510" cy="58.3" r="1.0"/><circle cx="503.2" cy="43.2" r="1.0"/><circle cx="509.1" cy="54.2" r="1.0"/><circle cx="513" cy="58.7" r="1.0"/></g>
<g fill="#c01ac0" stroke="#e444e4" stroke-width="0.55"><circle cx="510.1" cy="66.5" r="1.0"/><circle cx="530.1" cy="69.6" r="1.0"/><circle cx="513" cy="69.1" r="1.0"/><circle cx="508.7" cy="75" r="1.0"/></g>
<g fill="#1c74c8" stroke="#38a0ee" stroke-width="0.55"><circle cx="515.4" cy="72.3" r="1.0"/><circle cx="530.1" cy="78" r="1.0"/><circle cx="495.9" cy="78.7" r="1.0"/><circle cx="508.3" cy="84.4" r="1.0"/><circle cx="512.3" cy="91.6" r="1.0"/><circle cx="525.3" cy="92.3" r="1.0"/><circle cx="538.6" cy="92.3" r="1.0"/><circle cx="519.4" cy="94.4" r="1.0"/><circle cx="521.7" cy="96" r="1.0"/><circle cx="523" cy="98.4" r="1.0"/><circle cx="537.3" cy="99.7" r="1.0"/><circle cx="539" cy="101.3" r="1.0"/><circle cx="540.7" cy="102" r="1.0"/><circle cx="516.3" cy="108.7" r="1.0"/><circle cx="537.3" cy="107.7" r="1.0"/><circle cx="553" cy="113.6" r="1.0"/><circle cx="574" cy="116" r="1.0"/><circle cx="537" cy="116.4" r="1.0"/><circle cx="550" cy="119.6" r="1.0"/><circle cx="566.4" cy="119.6" r="1.0"/><circle cx="561.6" cy="122" r="1.0"/><circle cx="566.4" cy="130.4" r="1.0"/><circle cx="570.4" cy="132.4" r="1.0"/></g>
<path d="M45.9 198.9H48.9M45.9 197.9v2M48.9 197.9v2M47.4 197.6V200.2M46.4 197.6h2M46.4 200.2h2M45.4 201.2H48.4M45.4 200.2v2M48.4 200.2v2M46.9 199.9V202.5M45.9 199.9h2M45.9 202.5h2M45.9 203H48.9M45.9 202v2M48.9 202v2M47.4 201.7V204.3M46.4 201.7h2M46.4 204.3h2M45.4 205.4H48.4M45.4 204.4v2M48.4 204.4v2M46.9 204.1V206.7M45.9 204.1h2M45.9 206.7h2M45.4 209H48.4M45.4 208v2M48.4 208v2M46.9 207.7V210.3M45.9 207.7h2M45.9 210.3h2M46.7 210H49.7M46.7 209v2M49.7 209v2M48.2 208.7V211.3M47.2 208.7h2M47.2 211.3h2M47.4 213H50.4M47.4 212v2M50.4 212v2M48.9 211.7V214.3M47.9 211.7h2M47.9 214.3h2M46.3 216H49.3M46.3 215v2M49.3 215v2M47.8 214.7V217.3M46.8 214.7h2M46.8 217.3h2M45.9 217H48.9M45.9 216v2M48.9 216v2M47.4 215.7V218.3M46.4 215.7h2M46.4 218.3h2M45.9 221.2H48.9M45.9 220.2v2M48.9 220.2v2M47.4 219.9V222.5M46.4 219.9h2M46.4 222.5h2M45.4 225.7H48.4M45.4 224.7v2M48.4 224.7v2M46.9 224.4V227M45.9 224.4h2M45.9 227h2M49.4 230H52.4M49.4 229v2M52.4 229v2M50.9 228.7V231.3M49.9 228.7h2M49.9 231.3h2" stroke="#dca060" stroke-width="0.8" fill="none"/>
<path d="M44.4 235.3H47.4M44.4 234.3v2M47.4 234.3v2M45.9 234V236.6M44.9 234h2M44.9 236.6h2M45.9 236.4H48.9M45.9 235.4v2M48.9 235.4v2M47.4 235.1V237.7M46.4 235.1h2M46.4 237.7h2M42.4 241.9H45.4M42.4 240.9v2M45.4 240.9v2M43.9 240.6V243.2M42.9 240.6h2M42.9 243.2h2M41.3 247H44.3M41.3 246v2M44.3 246v2M42.8 245.7V248.3M41.8 245.7h2M41.8 248.3h2M41.8 248.2H44.8M41.8 247.2v2M44.8 247.2v2M43.3 246.9V249.5M42.3 246.9h2M42.3 249.5h2M50 257.6H53M50 256.6v2M53 256.6v2M51.5 256.3V258.9M50.5 256.3h2M50.5 258.9h2M48.2 264.5H51.2M48.2 263.5v2M51.2 263.5v2M49.7 263.2V265.8M48.7 263.2h2M48.7 265.8h2M49 263.8H52M49 262.8v2M52 262.8v2M50.5 262.5V265.1M49.5 262.5h2M49.5 265.1h2M44.8 250.9H50.8M44.8 249.9v2M50.8 249.9v2M47.8 249.6V252.2M46.8 249.6h2M46.8 252.2h2" stroke="#ec7c7c" stroke-width="0.8" fill="none"/>
<path d="M55 271.2H58M55 270.2v2M58 270.2v2M56.5 269.9V272.5M55.5 269.9h2M55.5 272.5h2M58.5 273.9H61.5M58.5 272.9v2M61.5 272.9v2M60 272.6V275.2M59 272.6h2M59 275.2h2M51.5 277H54.5M51.5 276v2M54.5 276v2M53 273.2V280.8M52 273.2h2M52 280.8h2M63.6 277H66.6M63.6 276v2M66.6 276v2M65.1 270.2V283.8M64.1 270.2h2M64.1 283.8h2" stroke="#ec8cec" stroke-width="0.8" fill="none"/>
<path d="M73.4 267.2H76.4M73.4 266.2v2M76.4 266.2v2M74.9 265.9V268.5M73.9 265.9h2M73.9 268.5h2M69.1 278.5H72.1M69.1 277.5v2M72.1 277.5v2M70.6 270.9V286.1M69.6 270.9h2M69.6 286.1h2M70.1 278.8H73.1M70.1 277.8v2M73.1 277.8v2M71.6 277.5V280.1M70.6 277.5h2M70.6 280.1h2M76.3 282.2H79.3M76.3 281.2v2M79.3 281.2v2M77.8 280.9V283.5M76.8 280.9h2M76.8 283.5h2M79.9 289.2H82.9M79.9 288.2v2M82.9 288.2v2M81.4 287.9V290.5M80.4 287.9h2M80.4 290.5h2M81.4 290.8H84.4M81.4 289.8v2M84.4 289.8v2M82.9 289.5V292.1M81.9 289.5h2M81.9 292.1h2M82.9 292.3H85.9M82.9 291.3v2M85.9 291.3v2M84.4 291V293.6M83.4 291h2M83.4 293.6h2M81.4 295.3H84.4M81.4 294.3v2M84.4 294.3v2M82.9 294V296.6M81.9 294h2M81.9 296.6h2M90.9 292.2H93.9M90.9 291.2v2M93.9 291.2v2M92.4 290.9V293.5M91.4 290.9h2M91.4 293.5h2M98.6 278.5H101.6M98.6 277.5v2M101.6 277.5v2M100.1 277.2V279.8M99.1 277.2h2M99.1 279.8h2M99.5 288H102.5M99.5 287v2M102.5 287v2M101 286.7V289.3M100 286.7h2M100 289.3h2M97.3 301.1H100.3M97.3 300.1v2M100.3 300.1v2M98.8 299.8V302.4M97.8 299.8h2M97.8 302.4h2M91.5 306.1H94.5M91.5 305.1v2M94.5 305.1v2M93 304.8V307.4M92 304.8h2M92 307.4h2M107.4 301.8H110.4M107.4 300.8v2M110.4 300.8v2M108.9 300.5V303.1M107.9 300.5h2M107.9 303.1h2M110.5 304.5H113.5M110.5 303.5v2M113.5 303.5v2M112 303.2V305.8M111 303.2h2M111 305.8h2M112 307.1H115M112 306.1v2M115 306.1v2M113.5 305.8V308.4M112.5 305.8h2M112.5 308.4h2M111.5 311.2H114.5M111.5 310.2v2M114.5 310.2v2M113 309.9V312.5M112 309.9h2M112 312.5h2M116.7 293.9H119.7M116.7 292.9v2M119.7 292.9v2M118.2 292.6V295.2M117.2 292.6h2M117.2 295.2h2M123 295.6H126M123 294.6v2M126 294.6v2M124.5 294.3V296.9M123.5 294.3h2M123.5 296.9h2M120.6 311.7H123.6M120.6 310.7v2M123.6 310.7v2M122.1 310.4V313M121.1 310.4h2M121.1 313h2M120.3 317H123.3M120.3 316v2M123.3 316v2M121.8 315.7V318.3M120.8 315.7h2M120.8 318.3h2M119.6 320H122.6M119.6 319v2M122.6 319v2M121.1 318.7V321.3M120.1 318.7h2M120.1 321.3h2M121.1 322.1H124.1M121.1 321.1v2M124.1 321.1v2M122.6 320.8V323.4M121.6 320.8h2M121.6 323.4h2M123.3 322.1H126.3M123.3 321.1v2M126.3 321.1v2M124.8 320.8V323.4M123.8 320.8h2M123.8 323.4h2M97.3 290.6H103.3M97.3 289.6v2M103.3 289.6v2M100.3 289.3V291.9M99.3 289.3h2M99.3 291.9h2M121.1 307.9H124.1M121.1 306.9v2M124.1 306.9v2M122.6 300.9V314.9M121.6 300.9h2M121.6 314.9h2" stroke="#84bcec" stroke-width="0.8" fill="none"/>
<path d="M143.2 355.1H155.2M143.2 354.1v2M155.2 354.1v2M149.2 353.6V356.6M148.2 353.6h2M148.2 356.6h2" stroke="#888888" stroke-width="0.8" fill="none"/>
<g fill="#a45814" stroke="#d07a26" stroke-width="0.55"><circle cx="47.4" cy="198.9" r="1.0"/><circle cx="46.9" cy="201.2" r="1.0"/><circle cx="47.4" cy="203" r="1.0"/><circle cx="46.9" cy="205.4" r="1.0"/><circle cx="46.9" cy="209" r="1.0"/><circle cx="48.2" cy="210" r="1.0"/><circle cx="48.9" cy="213" r="1.0"/><circle cx="47.8" cy="216" r="1.0"/><circle cx="47.4" cy="217" r="1.0"/><circle cx="47.4" cy="221.2" r="1.0"/><circle cx="46.9" cy="225.7" r="1.0"/><circle cx="50.9" cy="230" r="1.0"/></g>
<g fill="#c81018" stroke="#e83030" stroke-width="0.55"><circle cx="45.9" cy="235.3" r="1.0"/><circle cx="47.4" cy="236.4" r="1.0"/><circle cx="43.9" cy="241.9" r="1.0"/><circle cx="42.8" cy="247" r="1.0"/><circle cx="43.3" cy="248.2" r="1.0"/><circle cx="51.5" cy="257.6" r="1.0"/><circle cx="49.7" cy="264.5" r="1.0"/><circle cx="50.5" cy="263.8" r="1.0"/><circle cx="47.8" cy="250.9" r="1.0"/></g>
<g fill="#c01ac0" stroke="#e444e4" stroke-width="0.55"><circle cx="56.5" cy="271.2" r="1.0"/><circle cx="60" cy="273.9" r="1.0"/><circle cx="53" cy="277" r="1.0"/><circle cx="65.1" cy="277" r="1.0"/></g>
<g fill="#1c74c8" stroke="#38a0ee" stroke-width="0.55"><circle cx="74.9" cy="267.2" r="1.0"/><circle cx="70.6" cy="278.5" r="1.0"/><circle cx="71.6" cy="278.8" r="1.0"/><circle cx="77.8" cy="282.2" r="1.0"/><circle cx="81.4" cy="289.2" r="1.0"/><circle cx="82.9" cy="290.8" r="1.0"/><circle cx="84.4" cy="292.3" r="1.0"/><circle cx="82.9" cy="295.3" r="1.0"/><circle cx="92.4" cy="292.2" r="1.0"/><circle cx="100.1" cy="278.5" r="1.0"/><circle cx="101" cy="288" r="1.0"/><circle cx="98.8" cy="301.1" r="1.0"/><circle cx="93" cy="306.1" r="1.0"/><circle cx="108.9" cy="301.8" r="1.0"/><circle cx="112" cy="304.5" r="1.0"/><circle cx="113.5" cy="307.1" r="1.0"/><circle cx="113" cy="311.2" r="1.0"/><circle cx="118.2" cy="293.9" r="1.0"/><circle cx="124.5" cy="295.6" r="1.0"/><circle cx="122.1" cy="311.7" r="1.0"/><circle cx="121.8" cy="317" r="1.0"/><circle cx="121.1" cy="320" r="1.0"/><circle cx="122.6" cy="322.1" r="1.0"/><circle cx="124.8" cy="322.1" r="1.0"/><circle cx="100.3" cy="290.6" r="1.0"/><circle cx="122.6" cy="307.9" r="1.0"/></g>
<g fill="#505050" stroke="#707070" stroke-width="0.55"><circle cx="149.2" cy="355.1" r="1.0"/></g>
<path d="M266.3 198.9H271.3M266.3 197.9v2M271.3 197.9v2M268.8 197.6V200.2M267.8 197.6h2M267.8 200.2h2M264.8 201.9H269.2M264.8 200.9v2M269.2 200.9v2M267 200.6V203.2M266 200.6h2M266 203.2h2M268.1 203.4H272.5M268.1 202.4v2M272.5 202.4v2M270.3 202.1V204.7M269.3 202.1h2M269.3 204.7h2M268.1 205.7H272.5M268.1 204.7v2M272.5 204.7v2M270.3 204.4V207M269.3 204.4h2M269.3 207h2M267.3 209.5H271.7M267.3 208.5v2M271.7 208.5v2M269.5 208.2V210.8M268.5 208.2h2M268.5 210.8h2M271.1 209H275.5M271.1 208v2M275.5 208v2M273.3 207.7V210.3M272.3 207.7h2M272.3 210.3h2M273 212.5H277.4M273 211.5v2M277.4 211.5v2M275.2 211.2V213.8M274.2 211.2h2M274.2 213.8h2M271.4 216H275.8M271.4 215v2M275.8 215v2M273.6 214.7V217.3M272.6 214.7h2M272.6 217.3h2M271.9 217.1H276.3M271.9 216.1v2M276.3 216.1v2M274.1 215.8V218.4M273.1 215.8h2M273.1 218.4h2M273 221.2H277.4M273 220.2v2M277.4 220.2v2M275.2 219.9V222.5M274.2 219.9h2M274.2 222.5h2M268.1 225.7H272.5M268.1 224.7v2M272.5 224.7v2M270.3 224.4V227M269.3 224.4h2M269.3 227h2M273.4 230H277.8M273.4 229v2M277.8 229v2M275.6 228.7V231.3M274.6 228.7h2M274.6 231.3h2" stroke="#dca060" stroke-width="0.8" fill="none"/>
<path d="M269.6 235.3H274M269.6 234.3v2M274 234.3v2M271.8 234V236.6M270.8 234h2M270.8 236.6h2M271.9 236.4H276.3M271.9 235.4v2M276.3 235.4v2M274.1 235.1V237.7M273.1 235.1h2M273.1 237.7h2M278.4 242.1H282.8M278.4 241.1v2M282.8 241.1v2M280.6 240.8V243.4M279.6 240.8h2M279.6 243.4h2M276.4 247H280.8M276.4 246v2M280.8 246v2M278.6 245.7V248.3M277.6 245.7h2M277.6 248.3h2M277.2 248.2H281.6M277.2 247.2v2M281.6 247.2v2M279.4 246.9V249.5M278.4 246.9h2M278.4 249.5h2M286.3 257.6H290.7M286.3 256.6v2M290.7 256.6v2M288.5 256.3V258.9M287.5 256.3h2M287.5 258.9h2M279.5 264.1H283.9M279.5 263.1v2M283.9 263.1v2M281.7 262.8V265.4M280.7 262.8h2M280.7 265.4h2M285.5 264.5H289.9M285.5 263.5v2M289.9 263.5v2M287.7 263.2V265.8M286.7 263.2h2M286.7 265.8h2" stroke="#ec7c7c" stroke-width="0.8" fill="none"/>
<path d="M283.9 271.3H289.9M283.9 270.3v2M289.9 270.3v2M286.9 270V272.6M285.9 270h2M285.9 272.6h2M275.2 274H287.2M275.2 273v2M287.2 273v2M281.2 272.7V275.3M280.2 272.7h2M280.2 275.3h2M268.3 277H294.1M268.3 276v2M294.1 276v2M281.2 272V282M280.2 272h2M280.2 282h2" stroke="#ec8cec" stroke-width="0.8" fill="none"/>
<path d="M273.4 267.2H277.8M273.4 266.2v2M277.8 266.2v2M275.6 265.9V268.5M274.6 265.9h2M274.6 268.5h2M270.2 278.2H292.2M270.2 277.2v2M292.2 277.2v2M281.2 273.2V283.2M280.2 273.2h2M280.2 283.2h2M287.8 278.6H297.8M287.8 277.6v2M297.8 277.6v2M292.8 277.3V279.9M291.8 277.3h2M291.8 279.9h2M285.8 282.2H293.8M285.8 281.2v2M293.8 281.2v2M289.8 280.9V283.5M288.8 280.9h2M288.8 283.5h2M241.4 278.7H247.4M241.4 277.7v2M247.4 277.7v2M244.4 277.4V280M243.4 277.4h2M243.4 280h2M273.2 289.5H277.6M273.2 288.5v2M277.6 288.5v2M275.4 288.2V290.8M274.4 288.2h2M274.4 290.8h2M274.2 290.5H282.2M274.2 289.5v2M282.2 289.5v2M278.2 289.2V291.8M277.2 289.2h2M277.2 291.8h2M266.3 292.5H276.3M266.3 291.5v2M276.3 291.5v2M271.3 291.2V293.8M270.3 291.2h2M270.3 293.8h2M252.3 292.1H258.3M252.3 291.1v2M258.3 291.1v2M255.3 290.8V293.4M254.3 290.8h2M254.3 293.4h2M254.5 295.4H262.5M254.5 294.4v2M262.5 294.4v2M258.5 294.1V296.7M257.5 294.1h2M257.5 296.7h2M223.5 287.9H229.5M223.5 286.9v2M229.5 286.9v2M226.5 286.6V289.2M225.5 286.6h2M225.5 289.2h2M228.9 291.2H236.9M228.9 290.2v2M236.9 290.2v2M232.9 289.9V292.5M231.9 289.9h2M231.9 292.5h2M235.1 291.3H239.5M235.1 290.3v2M239.5 290.3v2M237.3 288.3V294.3M236.3 288.3h2M236.3 294.3h2M246.7 301.1H251.1M246.7 300.1v2M251.1 300.1v2M248.9 299.8V302.4M247.9 299.8h2M247.9 302.4h2M248.8 301.7H254.8M248.8 300.7v2M254.8 300.7v2M251.8 300.4V303M250.8 300.4h2M250.8 303h2M268.5 305.9H288.5M268.5 304.9v2M288.5 304.9v2M278.5 304.6V307.2M277.5 304.6h2M277.5 307.2h2M221.9 302.2H234.7M221.9 301.2v2M234.7 301.2v2M228.3 300.9V303.5M227.3 300.9h2M227.3 303.5h2M227.8 307.6H236.8M227.8 306.6v2M236.8 306.6v2M232.3 306.3V308.9M231.3 306.3h2M231.3 308.9h2M234.1 305H248.1M234.1 304v2M248.1 304v2M241.1 303.7V306.3M240.1 303.7h2M240.1 306.3h2M243.3 311.6H249.3M243.3 310.6v2M249.3 310.6v2M246.3 310.3V312.9M245.3 310.3h2M245.3 312.9h2M237.3 317.3H244.3M237.3 316.3v2M244.3 316.3v2M240.8 316V318.6M239.8 316h2M239.8 318.6h2M189.9 295.5H194.3M189.9 294.5v2M194.3 294.5v2M192.1 294.2V296.8M191.1 294.2h2M191.1 296.8h2M199.5 307.7H219.5M199.5 306.7v2M219.5 306.7v2M209.5 306.4V309M208.5 306.4h2M208.5 309h2M202.6 320.3H220.6M202.6 319.3v2M220.6 319.3v2M211.6 317.3V323.3M210.6 317.3h2M210.6 323.3h2" stroke="#84bcec" stroke-width="0.8" fill="none"/>
<g fill="#a45814" stroke="#d07a26" stroke-width="0.55"><circle cx="268.8" cy="198.9" r="1.0"/><circle cx="267" cy="201.9" r="1.0"/><circle cx="270.3" cy="203.4" r="1.0"/><circle cx="270.3" cy="205.7" r="1.0"/><circle cx="269.5" cy="209.5" r="1.0"/><circle cx="273.3" cy="209" r="1.0"/><circle cx="275.2" cy="212.5" r="1.0"/><circle cx="273.6" cy="216" r="1.0"/><circle cx="274.1" cy="217.1" r="1.0"/><circle cx="275.2" cy="221.2" r="1.0"/><circle cx="270.3" cy="225.7" r="1.0"/><circle cx="275.6" cy="230" r="1.0"/></g>
<g fill="#c81018" stroke="#e83030" stroke-width="0.55"><circle cx="271.8" cy="235.3" r="1.0"/><circle cx="274.1" cy="236.4" r="1.0"/><circle cx="280.6" cy="242.1" r="1.0"/><circle cx="278.6" cy="247" r="1.0"/><circle cx="279.4" cy="248.2" r="1.0"/><circle cx="288.5" cy="257.6" r="1.0"/><circle cx="281.7" cy="264.1" r="1.0"/><circle cx="287.7" cy="264.5" r="1.0"/></g>
<g fill="#c01ac0" stroke="#e444e4" stroke-width="0.55"><circle cx="286.9" cy="271.3" r="1.0"/><circle cx="281.2" cy="274" r="1.0"/><circle cx="281.2" cy="277" r="1.0"/></g>
<g fill="#1c74c8" stroke="#38a0ee" stroke-width="0.55"><circle cx="275.6" cy="267.2" r="1.0"/><circle cx="281.2" cy="278.2" r="1.0"/><circle cx="292.8" cy="278.6" r="1.0"/><circle cx="289.8" cy="282.2" r="1.0"/><circle cx="244.4" cy="278.7" r="1.0"/><circle cx="275.4" cy="289.5" r="1.0"/><circle cx="278.2" cy="290.5" r="1.0"/><circle cx="271.3" cy="292.5" r="1.0"/><circle cx="255.3" cy="292.1" r="1.0"/><circle cx="258.5" cy="295.4" r="1.0"/><circle cx="226.5" cy="287.9" r="1.0"/><circle cx="232.9" cy="291.2" r="1.0"/><circle cx="237.3" cy="291.3" r="1.0"/><circle cx="248.9" cy="301.1" r="1.0"/><circle cx="251.8" cy="301.7" r="1.0"/><circle cx="278.5" cy="305.9" r="1.0"/><circle cx="228.3" cy="302.2" r="1.0"/><circle cx="232.3" cy="307.6" r="1.0"/><circle cx="241.1" cy="305" r="1.0"/><circle cx="246.3" cy="311.6" r="1.0"/><circle cx="240.8" cy="317.3" r="1.0"/><circle cx="192.1" cy="295.5" r="1.0"/><circle cx="209.5" cy="307.7" r="1.0"/><circle cx="211.6" cy="320.3" r="1.0"/></g>
<path d="M344 199.3H350M344 198.3v2M350 198.3v2M347 198V200.6M346 198h2M346 200.6h2M343.3 203H347.7M343.3 202v2M347.7 202v2M345.5 201.7V204.3M344.5 201.7h2M344.5 204.3h2M344.8 203.9H349.2M344.8 202.9v2M349.2 202.9v2M347 202.6V205.2M346 202.6h2M346 205.2h2M345.1 206.5H349.5M345.1 205.5v2M349.5 205.5v2M347.3 205.2V207.8M346.3 205.2h2M346.3 207.8h2M344.8 209.9H349.2M344.8 208.9v2M349.2 208.9v2M347 208.6V211.2M346 208.6h2M346 211.2h2M348.1 209H352.5M348.1 208v2M352.5 208v2M350.3 207.7V210.3M349.3 207.7h2M349.3 210.3h2M350 216.6H354.4M350 215.6v2M354.4 215.6v2M352.2 215.3V217.9M351.2 215.3h2M351.2 217.9h2M351.5 216H355.9M351.5 215v2M355.9 215v2M353.7 214.7V217.3M352.7 214.7h2M352.7 217.3h2M345.9 225.7H350.3M345.9 224.7v2M350.3 224.7v2M348.1 224.4V227M347.1 224.4h2M347.1 227h2M356.9 230H361.3M356.9 229v2M361.3 229v2M359.1 228.7V231.3M358.1 228.7h2M358.1 231.3h2M352.6 212.5H358.6M352.6 211.5v2M358.6 211.5v2M355.6 209.5V215.5M354.6 209.5h2M354.6 215.5h2M350.7 221.2H356.7M350.7 220.2v2M356.7 220.2v2M353.7 219.9V222.5M352.7 219.9h2M352.7 222.5h2" stroke="#dca060" stroke-width="0.8" fill="none"/>
<path d="M345.2 235.2H349.6M345.2 234.2v2M349.6 234.2v2M347.4 233.9V236.5M346.4 233.9h2M346.4 236.5h2M349.7 236.4H354.1M349.7 235.4v2M354.1 235.4v2M351.9 235.1V237.7M350.9 235.1h2M350.9 237.7h2M352 242.1H356.4M352 241.1v2M356.4 241.1v2M354.2 240.8V243.4M353.2 240.8h2M353.2 243.4h2M348.3 247H352.7M348.3 246v2M352.7 246v2M350.5 245.7V248.3M349.5 245.7h2M349.5 248.3h2M347.5 248.2H351.9M347.5 247.2v2M351.9 247.2v2M349.7 246.9V249.5M348.7 246.9h2M348.7 249.5h2M364.2 264.1H368.6M364.2 263.1v2M368.6 263.1v2M366.4 262.8V265.4M365.4 262.8h2M365.4 265.4h2M368 264.5H372.4M368 263.5v2M372.4 263.5v2M370.2 263.2V265.8M369.2 263.2h2M369.2 265.8h2M371.7 257.6H377.7M371.7 256.6v2M377.7 256.6v2M374.7 256.3V258.9M373.7 256.3h2M373.7 258.9h2" stroke="#ec7c7c" stroke-width="0.8" fill="none"/>
<path d="M378.8 271.4H383.2M378.8 270.4v2M383.2 270.4v2M381 270.1V272.7M380 270.1h2M380 272.7h2M374.1 273.9H387.5M374.1 272.9v2M387.5 272.9v2M380.8 272.6V275.2M379.8 272.6h2M379.8 275.2h2M361.6 277H375.6M361.6 276v2M375.6 276v2M368.6 273V281M367.6 273h2M367.6 281h2M375.8 277.2H405.4M375.8 276.2v2M405.4 276.2v2M390.6 270.2V284.2M389.6 270.2h2M389.6 284.2h2" stroke="#ec8cec" stroke-width="0.8" fill="none"/>
<path d="M396.5 267.1H401.5M396.5 266.1v2M401.5 266.1v2M399 265.8V268.4M398 265.8h2M398 268.4h2M384.8 278.1H410.8M384.8 277.1v2M410.8 277.1v2M397.8 271.1V285.1M396.8 271.1h2M396.8 285.1h2M404.8 278.6H409.2M404.8 277.6v2M409.2 277.6v2M407 277.3V279.9M406 277.3h2M406 279.9h2M406.5 278.6H418.5M406.5 277.6v2M418.5 277.6v2M412.5 277.3V279.9M411.5 277.3h2M411.5 279.9h2M414.7 282.3H424.7M414.7 281.3v2M424.7 281.3v2M419.7 281V283.6M418.7 281h2M418.7 283.6h2M386.8 287.7H391.2M386.8 286.7v2M391.2 286.7v2M389 286.4V289M388 286.4h2M388 289h2M398.5 291.1H402.9M398.5 290.1v2M402.9 290.1v2M400.7 289.8V292.4M399.7 289.8h2M399.7 292.4h2M403.1 291.7H407.5M403.1 290.7v2M407.5 290.7v2M405.3 290.4V293M404.3 290.4h2M404.3 293h2M407.9 290.2H412.3M407.9 289.2v2M412.3 289.2v2M410.1 288.9V291.5M409.1 288.9h2M409.1 291.5h2M411.9 290.2H416.3M411.9 289.2v2M416.3 289.2v2M414.1 288.9V291.5M413.1 288.9h2M413.1 291.5h2M407.9 292.1H412.3M407.9 291.1v2M412.3 291.1v2M410.1 290.8V293.4M409.1 290.8h2M409.1 293.4h2M388.2 295.6H392.6M388.2 294.6v2M392.6 294.6v2M390.4 294.3V296.9M389.4 294.3h2M389.4 296.9h2M391 295.6H395.4M391 294.6v2M395.4 294.6v2M393.2 294.3V296.9M392.2 294.3h2M392.2 296.9h2M406.9 301H411.3M406.9 300v2M411.3 300v2M409.1 299.7V302.3M408.1 299.7h2M408.1 302.3h2M410.6 301.8H415M410.6 300.8v2M415 300.8v2M412.8 300.5V303.1M411.8 300.5h2M411.8 303.1h2M390 291.1H400M390 290.1v2M400 290.1v2M395 289.8V292.4M394 289.8h2M394 292.4h2M397.5 301.9H411.5M397.5 300.9v2M411.5 300.9v2M404.5 300.6V303.2M403.5 300.6h2M403.5 303.2h2M415.2 305.2H431.2M415.2 304.2v2M431.2 304.2v2M423.2 303.9V306.5M422.2 303.9h2M422.2 306.5h2M422 306H443.6M422 305v2M443.6 305v2M432.8 304.7V307.3M431.8 304.7h2M431.8 307.3h2M379.3 308H400.9M379.3 307v2M400.9 307v2M390.1 306.7V309.3M389.1 306.7h2M389.1 309.3h2M411.3 307.4H421.9M411.3 306.4v2M421.9 306.4v2M416.6 306.1V308.7M415.6 306.1h2M415.6 308.7h2M426.3 311.4H434.3M426.3 310.4v2M434.3 310.4v2M430.3 310.1V312.7M429.3 310.1h2M429.3 312.7h2M435.4 317H443.4M435.4 316v2M443.4 316v2M439.4 315.7V318.3M438.4 315.7h2M438.4 318.3h2M396.7 320.5H415.3M396.7 319.5v2M415.3 319.5v2M406 317.5V323.5M405 317.5h2M405 323.5h2" stroke="#84bcec" stroke-width="0.8" fill="none"/>
<g fill="#a45814" stroke="#d07a26" stroke-width="0.55"><circle cx="347" cy="199.3" r="1.0"/><circle cx="345.5" cy="203" r="1.0"/><circle cx="347" cy="203.9" r="1.0"/><circle cx="347.3" cy="206.5" r="1.0"/><circle cx="347" cy="209.9" r="1.0"/><circle cx="350.3" cy="209" r="1.0"/><circle cx="352.2" cy="216.6" r="1.0"/><circle cx="353.7" cy="216" r="1.0"/><circle cx="348.1" cy="225.7" r="1.0"/><circle cx="359.1" cy="230" r="1.0"/><circle cx="355.6" cy="212.5" r="1.0"/><circle cx="353.7" cy="221.2" r="1.0"/></g>
<g fill="#c81018" stroke="#e83030" stroke-width="0.55"><circle cx="347.4" cy="235.2" r="1.0"/><circle cx="351.9" cy="236.4" r="1.0"/><circle cx="354.2" cy="242.1" r="1.0"/><circle cx="350.5" cy="247" r="1.0"/><circle cx="349.7" cy="248.2" r="1.0"/><circle cx="366.4" cy="264.1" r="1.0"/><circle cx="370.2" cy="264.5" r="1.0"/><circle cx="374.7" cy="257.6" r="1.0"/></g>
<g fill="#c01ac0" stroke="#e444e4" stroke-width="0.55"><circle cx="381" cy="271.4" r="1.0"/><circle cx="380.8" cy="273.9" r="1.0"/><circle cx="368.6" cy="277" r="1.0"/><circle cx="390.6" cy="277.2" r="1.0"/></g>
<g fill="#1c74c8" stroke="#38a0ee" stroke-width="0.55"><circle cx="399" cy="267.1" r="1.0"/><circle cx="397.8" cy="278.1" r="1.0"/><circle cx="407" cy="278.6" r="1.0"/><circle cx="412.5" cy="278.6" r="1.0"/><circle cx="419.7" cy="282.3" r="1.0"/><circle cx="389" cy="287.7" r="1.0"/><circle cx="400.7" cy="291.1" r="1.0"/><circle cx="405.3" cy="291.7" r="1.0"/><circle cx="410.1" cy="290.2" r="1.0"/><circle cx="414.1" cy="290.2" r="1.0"/><circle cx="410.1" cy="292.1" r="1.0"/><circle cx="390.4" cy="295.6" r="1.0"/><circle cx="393.2" cy="295.6" r="1.0"/><circle cx="409.1" cy="301" r="1.0"/><circle cx="412.8" cy="301.8" r="1.0"/><circle cx="395" cy="291.1" r="1.0"/><circle cx="404.5" cy="301.9" r="1.0"/><circle cx="423.2" cy="305.2" r="1.0"/><circle cx="432.8" cy="306" r="1.0"/><circle cx="390.1" cy="308" r="1.0"/><circle cx="416.6" cy="307.4" r="1.0"/><circle cx="430.3" cy="311.4" r="1.0"/><circle cx="439.4" cy="317" r="1.0"/><circle cx="406" cy="320.5" r="1.0"/></g>
<path d="M489 199.3H497M489 198.3v2M497 198.3v2M493 198V200.6M492 198h2M492 200.6h2M491.1 202.4H496.1M491.1 201.4v2M496.1 201.4v2M493.6 201.1V203.7M492.6 201.1h2M492.6 203.7h2M492 203.9H497M492 202.9v2M497 202.9v2M494.5 202.6V205.2M493.5 202.6h2M493.5 205.2h2M492 205.7H497M492 204.7v2M497 204.7v2M494.5 204.4V207M493.5 204.4h2M493.5 207h2M490.1 209.5H495.1M490.1 208.5v2M495.1 208.5v2M492.6 208.2V210.8M491.6 208.2h2M491.6 210.8h2M491.1 210.2H496.1M491.1 209.2v2M496.1 209.2v2M493.6 208.9V211.5M492.6 208.9h2M492.6 211.5h2M496.1 216H501.1M496.1 215v2M501.1 215v2M498.6 214.7V217.3M497.6 214.7h2M497.6 217.3h2M496.9 217.1H501.9M496.9 216.1v2M501.9 216.1v2M499.4 215.8V218.4M498.4 215.8h2M498.4 218.4h2M500.7 225.7H505.7M500.7 224.7v2M505.7 224.7v2M503.2 224.4V227M502.2 224.4h2M502.2 227h2M501.9 230H506.9M501.9 229v2M506.9 229v2M504.4 228.7V231.3M503.4 228.7h2M503.4 231.3h2M501.2 212.5H507.2M501.2 211.5v2M507.2 211.5v2M504.2 209.5V215.5M503.2 209.5h2M503.2 215.5h2M500.6 221.2H506.6M500.6 220.2v2M506.6 220.2v2M503.6 219.9V222.5M502.6 219.9h2M502.6 222.5h2" stroke="#dca060" stroke-width="0.8" fill="none"/>
<path d="M492.1 235.5H497.1M492.1 234.5v2M497.1 234.5v2M494.6 234.2V236.8M493.6 234.2h2M493.6 236.8h2M500.5 247H505.5M500.5 246v2M505.5 246v2M503 245.7V248.3M502 245.7h2M502 248.3h2M510.5 264.2H515.5M510.5 263.2v2M515.5 263.2v2M513 262.9V265.5M512 262.9h2M512 265.5h2M495.9 236.5H501.9M495.9 235.5v2M501.9 235.5v2M498.9 235.2V237.8M497.9 235.2h2M497.9 237.8h2M492.1 242H497.1M492.1 241v2M497.1 241v2M494.6 240.7V243.3M493.6 240.7h2M493.6 243.3h2M498 248.3H508M498 247.3v2M508 247.3v2M503 247V249.6M502 247h2M502 249.6h2M505.7 257H512.7M505.7 256v2M512.7 256v2M509.2 255.7V258.3M508.2 255.7h2M508.2 258.3h2M507 264.7H513M507 263.7v2M513 263.7v2M510 263.4V266M509 263.4h2M509 266h2" stroke="#ec7c7c" stroke-width="0.8" fill="none"/>
<path d="M504.7 271.3H514.7M504.7 270.3v2M514.7 270.3v2M509.7 270V272.6M508.7 270h2M508.7 272.6h2M518.3 274.2H541.7M518.3 273.2v2M541.7 273.2v2M530 272.2V276.2M529 272.2h2M529 276.2h2M483.7 277H533.7M483.7 276v2M533.7 276v2M508.7 273V281M507.7 273h2M507.7 281h2M510.8 277H515.2M510.8 276v2M515.2 276v2M513 275.7V278.3M512 275.7h2M512 278.3h2" stroke="#ec8cec" stroke-width="0.8" fill="none"/>
<path d="M512.3 267H518.3M512.3 266v2M518.3 266v2M515.3 265.7V268.3M514.3 265.7h2M514.3 268.3h2M508.3 278H551.7M508.3 277v2M551.7 277v2M530 270.5V285.5M529 270.5h2M529 285.5h2M488.3 278.7H503.3M488.3 277.7v2M503.3 277.7v2M495.8 277.4V280M494.8 277.4h2M494.8 280h2M536.5 278.7H540.9M536.5 277.7v2M540.9 277.7v2M538.7 277.4V280M537.7 277.4h2M537.7 280h2M494.3 282H522.3M494.3 281v2M522.3 281v2M508.3 280.7V283.3M507.3 280.7h2M507.3 283.3h2M496.6 289.4H528.2M496.6 288.4v2M528.2 288.4v2M512.4 288.1V290.7M511.4 288.1h2M511.4 290.7h2M520.3 289.7H530.3M520.3 288.7v2M530.3 288.7v2M525.3 288.4V291M524.3 288.4h2M524.3 291h2M534.8 287.8H539.2M534.8 286.8v2M539.2 286.8v2M537 286.5V289.1M536 286.5h2M536 289.1h2M531 291H549.8M531 290v2M549.8 290v2M540.4 289.7V292.3M539.4 289.7h2M539.4 292.3h2M504.6 292.4H533.8M504.6 291.4v2M533.8 291.4v2M519.2 291.1V293.7M518.2 291.1h2M518.2 293.7h2M520.8 292H525.2M520.8 291v2M525.2 291v2M523 290.7V293.3M522 290.7h2M522 293.3h2M506.3 295.6H536.9M506.3 294.6v2M536.9 294.6v2M521.6 294.3V296.9M520.6 294.3h2M520.6 296.9h2M570 295.6H578M570 294.6v2M578 294.6v2M574 294.3V296.9M573 294.3h2M573 296.9h2M529 301H545M529 300v2M545 300v2M537 299.7V302.3M536 299.7h2M536 302.3h2M543 302H563M543 301v2M563 301v2M553 300.7V303.3M552 300.7h2M552 303.3h2M498.7 306H533.3M498.7 305v2M533.3 305v2M516 304.7V307.3M515 304.7h2M515 307.3h2M522.4 305H551.6M522.4 304v2M551.6 304v2M537 303.7V306.3M536 303.7h2M536 306.3h2M543.3 307.4H556.7M543.3 306.4v2M556.7 306.4v2M550 306.1V308.7M549 306.1h2M549 308.7h2M544.4 308H588.4M544.4 307v2M588.4 307v2M566.4 306.7V309.3M565.4 306.7h2M565.4 309.3h2M555.6 311.6H567.6M555.6 310.6v2M567.6 310.6v2M561.6 310.3V312.9M560.6 310.3h2M560.6 312.9h2M560.4 317.2H572.4M560.4 316.2v2M572.4 316.2v2M566.4 315.9V318.5M565.4 315.9h2M565.4 318.5h2M557.1 320.6H583.7M557.1 319.6v2M583.7 319.6v2M570.4 319.3V321.9M569.4 319.3h2M569.4 321.9h2" stroke="#84bcec" stroke-width="0.8" fill="none"/>
<g fill="#a45814" stroke="#d07a26" stroke-width="0.55"><circle cx="493" cy="199.3" r="1.0"/><circle cx="493.6" cy="202.4" r="1.0"/><circle cx="494.5" cy="203.9" r="1.0"/><circle cx="494.5" cy="205.7" r="1.0"/><circle cx="492.6" cy="209.5" r="1.0"/><circle cx="493.6" cy="210.2" r="1.0"/><circle cx="498.6" cy="216" r="1.0"/><circle cx="499.4" cy="217.1" r="1.0"/><circle cx="503.2" cy="225.7" r="1.0"/><circle cx="504.4" cy="230" r="1.0"/><circle cx="504.2" cy="212.5" r="1.0"/><circle cx="503.6" cy="221.2" r="1.0"/></g>
<g fill="#c81018" stroke="#e83030" stroke-width="0.55"><circle cx="494.6" cy="235.5" r="1.0"/><circle cx="503" cy="247" r="1.0"/><circle cx="513" cy="264.2" r="1.0"/><circle cx="498.9" cy="236.5" r="1.0"/><circle cx="494.6" cy="242" r="1.0"/><circle cx="503" cy="248.3" r="1.0"/><circle cx="509.2" cy="257" r="1.0"/><circle cx="510" cy="264.7" r="1.0"/></g>
<g fill="#c01ac0" stroke="#e444e4" stroke-width="0.55"><circle cx="509.7" cy="271.3" r="1.0"/><circle cx="530" cy="274.2" r="1.0"/><circle cx="508.7" cy="277" r="1.0"/><circle cx="513" cy="277" r="1.0"/></g>
<g fill="#1c74c8" stroke="#38a0ee" stroke-width="0.55"><circle cx="515.3" cy="267" r="1.0"/><circle cx="530" cy="278" r="1.0"/><circle cx="495.8" cy="278.7" r="1.0"/><circle cx="538.7" cy="278.7" r="1.0"/><circle cx="508.3" cy="282" r="1.0"/><circle cx="512.4" cy="289.4" r="1.0"/><circle cx="525.3" cy="289.7" r="1.0"/><circle cx="537" cy="287.8" r="1.0"/><circle cx="540.4" cy="291" r="1.0"/><circle cx="519.2" cy="292.4" r="1.0"/><circle cx="523" cy="292" r="1.0"/><circle cx="521.6" cy="295.6" r="1.0"/><circle cx="574" cy="295.6" r="1.0"/><circle cx="537" cy="301" r="1.0"/><circle cx="553" cy="302" r="1.0"/><circle cx="516" cy="306" r="1.0"/><circle cx="537" cy="305" r="1.0"/><circle cx="550" cy="307.4" r="1.0"/><circle cx="566.4" cy="308" r="1.0"/><circle cx="561.6" cy="311.6" r="1.0"/><circle cx="566.4" cy="317.2" r="1.0"/><circle cx="570.4" cy="320.6" r="1.0"/></g>
</svg>
</body></html>
